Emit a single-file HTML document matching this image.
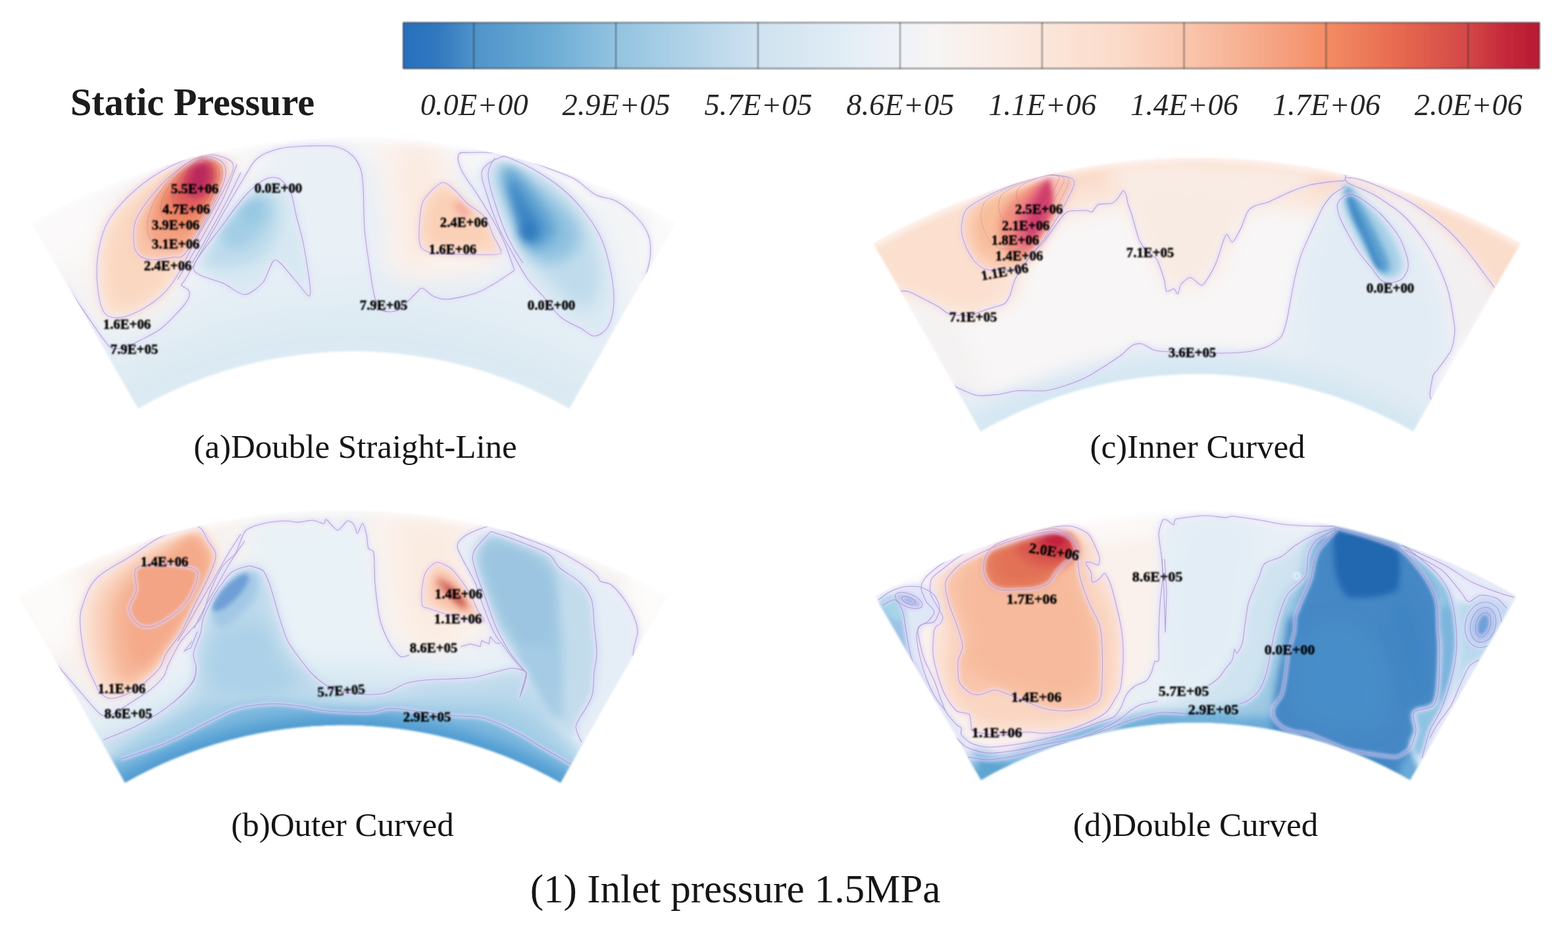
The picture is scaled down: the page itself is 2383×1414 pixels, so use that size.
<!DOCTYPE html>
<html lang="en"><head><meta charset="utf-8"><title>Static Pressure - Inlet pressure 1.5MPa</title>
<style>
html,body{margin:0;padding:0;background:#fff;}
body{width:2383px;height:1414px;overflow:hidden;}
svg{display:block;font-family:"Liberation Serif",serif;}
.cl text{font-weight:bold;fill:#050505;stroke:#050505;stroke-width:0.5px;text-anchor:middle;}
.cap{font-size:51px;fill:#141414;text-anchor:middle;}
.tick{font-size:46.4px;font-style:italic;fill:#262626;text-anchor:middle;}
</style></head><body>
<svg width="2383" height="1414" viewBox="0 0 2383 1414" role="img" aria-label="Static pressure contours, inlet pressure 1.5MPa">
<defs>
<filter id="b2" x="-60%" y="-60%" width="220%" height="220%"><feGaussianBlur stdDeviation="2"/></filter>
<filter id="b3" x="-60%" y="-60%" width="220%" height="220%"><feGaussianBlur stdDeviation="3"/></filter>
<filter id="b4" x="-60%" y="-60%" width="220%" height="220%"><feGaussianBlur stdDeviation="4"/></filter>
<filter id="b5" x="-60%" y="-60%" width="220%" height="220%"><feGaussianBlur stdDeviation="5"/></filter>
<filter id="b6" x="-60%" y="-60%" width="220%" height="220%"><feGaussianBlur stdDeviation="6"/></filter>
<filter id="b7" x="-60%" y="-60%" width="220%" height="220%"><feGaussianBlur stdDeviation="7"/></filter>
<filter id="b8" x="-60%" y="-60%" width="220%" height="220%"><feGaussianBlur stdDeviation="8"/></filter>
<filter id="b9" x="-60%" y="-60%" width="220%" height="220%"><feGaussianBlur stdDeviation="9"/></filter>
<filter id="b10" x="-60%" y="-60%" width="220%" height="220%"><feGaussianBlur stdDeviation="10"/></filter>
<filter id="b11" x="-60%" y="-60%" width="220%" height="220%"><feGaussianBlur stdDeviation="11"/></filter>
<filter id="b12" x="-60%" y="-60%" width="220%" height="220%"><feGaussianBlur stdDeviation="12"/></filter>
<filter id="b14" x="-60%" y="-60%" width="220%" height="220%"><feGaussianBlur stdDeviation="14"/></filter>
<filter id="b16" x="-60%" y="-60%" width="220%" height="220%"><feGaussianBlur stdDeviation="16"/></filter>
<filter id="b20" x="-60%" y="-60%" width="220%" height="220%"><feGaussianBlur stdDeviation="20"/></filter>
<filter id="b22" x="-60%" y="-60%" width="220%" height="220%"><feGaussianBlur stdDeviation="22"/></filter>
<filter id="b25" x="-60%" y="-60%" width="220%" height="220%"><feGaussianBlur stdDeviation="25"/></filter>
<filter id="soft" x="-5%" y="-5%" width="110%" height="110%"><feGaussianBlur stdDeviation="1.6"/></filter>
<filter id="tsoft" x="-5%" y="-20%" width="110%" height="140%"><feGaussianBlur stdDeviation="0.85"/></filter>
<filter id="csoft" x="-5%" y="-20%" width="110%" height="140%"><feGaussianBlur stdDeviation="0.65"/></filter>
<filter id="cbsoft" x="-2%" y="-20%" width="104%" height="140%"><feGaussianBlur stdDeviation="1"/></filter>
<filter id="lsoft" x="-5%" y="-5%" width="110%" height="110%"><feGaussianBlur stdDeviation="0.6"/></filter>
<linearGradient id="cbg" x1="0" y1="0" x2="1" y2="0">
<stop offset="0" stop-color="#2670bd"/>
<stop offset="0.03" stop-color="#3178be"/>
<stop offset="0.0625" stop-color="#4f93c9"/>
<stop offset="0.125" stop-color="#6aaad4"/>
<stop offset="0.1875" stop-color="#93c3e0"/>
<stop offset="0.25" stop-color="#b0d3e8"/>
<stop offset="0.3125" stop-color="#cfe2f0"/>
<stop offset="0.375" stop-color="#deebf4"/>
<stop offset="0.4375" stop-color="#f0f3f8"/>
<stop offset="0.47" stop-color="#f7f4f4"/>
<stop offset="0.5" stop-color="#faf0eb"/>
<stop offset="0.5625" stop-color="#fbe6db"/>
<stop offset="0.625" stop-color="#fbdccb"/>
<stop offset="0.6875" stop-color="#fac6ae"/>
<stop offset="0.75" stop-color="#f6ab8c"/>
<stop offset="0.8125" stop-color="#f38d65"/>
<stop offset="0.875" stop-color="#e76a50"/>
<stop offset="0.9375" stop-color="#d34747"/>
<stop offset="0.97" stop-color="#c5283a"/>
<stop offset="1" stop-color="#b71a33"/>
</linearGradient>
<clipPath id="ca"><path d="M48.9 339A985.6 985.6 0 0 1 1026.1 339L865.1 621A660.9 660.9 0 0 0 209.9 621Z"/></clipPath>
<clipPath id="cb"><path d="M28.5 906.4A995.3 995.3 0 0 1 1013.5 906.4L852 1190A668.9 668.9 0 0 0 190 1190Z"/></clipPath>
<clipPath id="cc"><path d="M1327.5 370.3A992 992 0 0 1 2310.5 370.3L2147.7 655.7A663.5 663.5 0 0 0 1490.3 655.7Z"/></clipPath>
<clipPath id="cd"><path d="M1330 907A974 974 0 0 1 2304 907L2143 1185.9A652 652 0 0 0 1491 1185.9Z"/></clipPath>
</defs>
<rect width="2383" height="1414" fill="#ffffff"/>
<g filter="url(#cbsoft)">
<rect x="612.5" y="34" width="1727.5" height="70.5" fill="url(#cbg)"/>
<rect x="613" y="34.5" width="1726.5" height="69.5" fill="none" stroke="#2a2a30" stroke-opacity="0.85" stroke-width="1.6"/>
<g stroke="#2e2e36" stroke-opacity="0.8" stroke-width="1.6">
<line x1="720.2" y1="34" x2="720.2" y2="104.5"/>
<line x1="936.1" y1="34" x2="936.1" y2="104.5"/>
<line x1="1151.9" y1="34" x2="1151.9" y2="104.5"/>
<line x1="1367.8" y1="34" x2="1367.8" y2="104.5"/>
<line x1="1583.7" y1="34" x2="1583.7" y2="104.5"/>
<line x1="1799.5" y1="34" x2="1799.5" y2="104.5"/>
<line x1="2015.4" y1="34" x2="2015.4" y2="104.5"/>
<line x1="2231.3" y1="34" x2="2231.3" y2="104.5"/>
</g></g>
<g filter="url(#csoft)">
<g class="tick">
<text x="720.7" y="174.5">0.0E+00</text>
<text x="936.6" y="174.5">2.9E+05</text>
<text x="1152.4" y="174.5">5.7E+05</text>
<text x="1368.3" y="174.5">8.6E+05</text>
<text x="1584.2" y="174.5">1.1E+06</text>
<text x="1800" y="174.5">1.4E+06</text>
<text x="2015.9" y="174.5">1.7E+06</text>
<text x="2231.8" y="174.5">2.0E+06</text>
</g>
<text x="292.5" y="175" text-anchor="middle" font-size="58.2" font-weight="bold" fill="#1a1a1a">Static Pressure</text>
<text class="cap" x="540" y="696">(a)Double Straight-Line</text>
<text class="cap" x="520.5" y="1271">(b)Outer Curved</text>
<text class="cap" x="1820" y="696">(c)Inner Curved</text>
<text class="cap" x="1817" y="1271">(d)Double Curved</text>
<text x="1117.5" y="1371.7" text-anchor="middle" font-size="61" fill="#141414">(1) Inlet pressure 1.5MPa</text>
</g>
<g filter="url(#soft)"><g clip-path="url(#ca)">
<rect x="25" y="204.4" width="1025" height="423.8" fill="#e8f0f7"/>
<path d="M40 330C58.3 300 151.7 269.2 200 250C248.3 230.8 293.3 220.8 330 215C366.7 209.2 420 195.8 420 215C420 234.2 353.3 294.2 330 330C306.7 365.8 293.3 401.7 280 430C266.7 458.3 271.7 488.3 250 500C228.3 511.7 176.7 511.7 150 500C123.3 488.3 108.3 458.3 90 430C71.7 401.7 21.7 360 40 330Z" fill="#f8f4f2" filter="url(#b25)"/>
<path d="M-105.3 429A1000 1000 0 0 1 1180.3 429L1148.1 467.3A950 950 0 0 0 -73.1 467.3Z" fill="#f8f7f8" opacity="0.9" filter="url(#b14)"/>
<path d="M20 330C23.3 306.7 96.7 280 120 280C143.3 280 163.3 306.7 160 330C156.7 353.3 123.3 420 100 420C76.7 420 16.7 353.3 20 330Z" fill="#fbf9f9" filter="url(#b20)"/>
<path d="M400 225C416.7 212.5 513.3 185.8 540 225C566.7 264.2 571.7 419.2 560 460C548.3 500.8 490 496.7 470 470C450 443.3 451.7 340.8 440 300C428.3 259.2 383.3 237.5 400 225Z" fill="#e9f0f6" filter="url(#b20)"/>
<path d="M575 215C590.8 196.7 659.2 205.8 680 220C700.8 234.2 686.7 271.7 700 300C713.3 328.3 756.7 370 760 390C763.3 410 746.7 413.3 720 420C693.3 426.7 622.5 445 600 430C577.5 415 589.2 365.8 585 330C580.8 294.2 559.2 233.3 575 215Z" fill="#fbf2ed" filter="url(#b16)"/>
<path d="M610 230C617.5 205.8 650.8 223.3 660 235C669.2 246.7 668.3 272.5 665 300C661.7 327.5 648.3 386.7 640 400C631.7 413.3 620 408.3 615 380C610 351.7 602.5 254.2 610 230Z" fill="#fbebe1" filter="url(#b14)"/>
<path d="M900 250C919.2 236.7 1038.3 281.7 1050 320C1061.7 358.3 989.2 466.7 970 480C950.8 493.3 946.7 438.3 935 400C923.3 361.7 880.8 263.3 900 250Z" fill="#f3f4f6" filter="url(#b16)"/>
<path d="M990 320C998.3 305 1048.3 313.3 1050 330C1051.7 346.7 1010 421.7 1000 420C990 418.3 981.7 335 990 320Z" fill="#fafafa" filter="url(#b12)"/>
<path d="M49 612.8A760 760 0 0 1 1026 612.8L958.5 693.2A655 655 0 0 0 116.5 693.2Z" fill="#dfebf3" opacity="0.9" filter="url(#b25)"/>
<path d="M87.5 658.8A700 700 0 0 1 987.5 658.8L955.3 697.1A650 650 0 0 0 119.7 697.1Z" fill="#d9e8f2" opacity="0.8" filter="url(#b14)"/>
<path d="M311 235C324.8 233.5 338.8 238.2 346 242C353.2 245.8 356.2 248 354 258C351.8 268 342.8 283.3 333 302C323.2 320.7 306.7 348.8 295 370C283.3 391.2 273.7 413.8 263 429C252.3 444.2 243.5 452.2 231 461C218.5 469.8 200 479.5 188 482C176 484.5 165.7 484.2 159 476C152.3 467.8 149.5 449 148 433C146.5 417 146.8 396.8 150 380C153.2 363.2 157 347.8 167 332C177 316.2 194 298.5 210 285C226 271.5 246.2 259.3 263 251C279.8 242.7 297.2 236.5 311 235Z" fill="#fbe3d3" filter="url(#b10)"/>
<path d="M300 250C320 245 335 248.3 335 265C335 281.7 313.3 323.3 300 350C286.7 376.7 269.2 406.7 255 425C240.8 443.3 228.3 453.3 215 460C201.7 466.7 183.8 471.7 175 465C166.2 458.3 162.8 439.2 162 420C161.2 400.8 161.2 370.8 170 350C178.8 329.2 193.3 311.7 215 295C236.7 278.3 280 255 300 250Z" fill="#fad7c0" filter="url(#b12)"/>
<path d="M301 239C314.5 233.8 326 239.8 333 243C340 246.2 342.3 251 343 258C343.7 265 343.3 270 337 285C330.7 300 314.5 331 305 348C295.5 365 287 379.8 280 387C273 394.2 271.2 389.7 263 391C254.8 392.3 239.8 395.7 231 395C222.2 394.3 214.7 392 210 387C205.3 382 203 375 203 365C203 355 201.8 342.2 210 327C218.2 311.8 236.8 288.7 252 274C267.2 259.3 287.5 244.2 301 239Z" fill="#f9c4aa" filter="url(#b7)"/>
<path d="M303 239C313 236.2 322.2 241.2 328 245C333.8 248.8 337.8 253.7 338 262C338.2 270.3 335 280.8 329 295C323 309.2 309.8 334.2 302 347C294.2 359.8 289.8 367.2 282 372C274.2 376.8 263.7 377 255 376C246.3 375 235.2 372.3 230 366C224.8 359.7 222.7 349 224 338C225.3 327 230.7 312.7 238 300C245.3 287.3 257.2 272.2 268 262C278.8 251.8 293 241.8 303 239Z" fill="#f4a283" filter="url(#b7)"/>
<path d="M305 240C313 238.2 321.3 242.8 326 247C330.7 251.2 333.3 257 333 265C332.7 273 328.8 284.2 324 295C319.2 305.8 311 321.5 304 330C297 338.5 290 344 282 346C274 348 262.3 346.7 256 342C249.7 337.3 244.5 326.7 244 318C243.5 309.3 247.3 300 253 290C258.7 280 269.3 266.3 278 258C286.7 249.7 297 241.8 305 240Z" fill="#ee8563" filter="url(#b7)"/>
<path d="M306 241C311.7 240.2 318.3 244.8 322 249C325.7 253.2 328.3 258.8 328 266C327.7 273.2 324.3 283.7 320 292C315.7 300.3 309 311.3 302 316C295 320.7 284.7 322.3 278 320C271.3 317.7 263.3 309.3 262 302C260.7 294.7 265.7 284 270 276C274.3 268 282 259.8 288 254C294 248.2 300.3 241.8 306 241Z" fill="#df5d5c" filter="url(#b7)"/>
<path d="M307 243C311.3 243 316.3 247.8 319 252C321.7 256.2 323.5 262 323 268C322.5 274 319.8 282.7 316 288C312.2 293.3 305.7 299.3 300 300C294.3 300.7 285 297 282 292C279 287 280.2 276.7 282 270C283.8 263.3 288.8 256.5 293 252C297.2 247.5 302.7 243 307 243Z" fill="#c8365e" filter="url(#b6)"/>
<ellipse cx="303" cy="268" rx="10" ry="20" fill="#b4285c" opacity="0.9" transform="rotate(12 303 268)" filter="url(#b6)"/>
<path d="M300 405C300.8 389.2 329.2 355 345 335C360.8 315 381.7 294.2 395 285C408.3 275.8 416.7 277.5 425 280C433.3 282.5 440 290 445 300C450 310 451.7 323.3 455 340C458.3 356.7 462.8 383.3 465 400C467.2 416.7 471.3 436.7 468 440C464.7 443.3 453.3 427 445 420C436.7 413 425.8 396.3 418 398C410.2 399.7 405.8 422 398 430C390.2 438 380.7 446 371 446C361.3 446 351.8 436.8 340 430C328.2 423.2 299.2 420.8 300 405Z" fill="#d7e8f2" filter="url(#b8)"/>
<path d="M310 398C309.2 385.5 341.3 347 355 330C368.7 313 381.5 301.3 392 296C402.5 290.7 412.7 290.7 418 298C423.3 305.3 426.2 325.5 424 340C421.8 354.5 415.7 374.2 405 385C394.3 395.8 375.8 402.8 360 405C344.2 407.2 310.8 410.5 310 398Z" fill="#bddbec" filter="url(#b10)"/>
<path d="M335 355C337.8 343.7 361.2 319.5 372 310C382.8 300.5 393.3 295.5 400 298C406.7 300.5 413.7 314.7 412 325C410.3 335.3 399.5 351.2 390 360C380.5 368.8 364.2 378.8 355 378C345.8 377.2 332.2 366.3 335 355Z" fill="#a3cee5" filter="url(#b9)"/>
<ellipse cx="382" cy="322" rx="18" ry="12" fill="#94c6e2" opacity="0.9" transform="rotate(-40 382 322)" filter="url(#b8)"/>
<path d="M671 278C678.8 275 683.3 282.7 690 288C696.7 293.3 703.2 303 711 310C718.8 317 730.5 321.8 737 330C743.5 338.2 746 349.8 750 359C754 368.2 765.2 380.3 761 385C756.8 389.7 741.8 387 725 387C708.2 387 674.2 386.8 660 385C645.8 383.2 643.8 381.8 640 376C636.2 370.2 636.5 361.7 637 350C637.5 338.3 637.3 318 643 306C648.7 294 663.2 281 671 278Z" fill="#fbd9c4" filter="url(#b7)"/>
<path d="M672 295C680 292.5 690.3 298.3 700 305C709.7 311.7 722.5 325 730 335C737.5 345 750 358.8 745 365C740 371.2 715 372 700 372C685 372 663 373.7 655 365C647 356.3 649.2 331.7 652 320C654.8 308.3 664 297.5 672 295Z" fill="#fad0b6" filter="url(#b8)"/>
<ellipse cx="702" cy="318" rx="16" ry="7" fill="#f3a39a" opacity="0.9" transform="rotate(45 702 318)" filter="url(#b6)"/>
<path d="M761 239C768.5 236.2 769.8 239 778 242C786.2 245 797.7 249.8 810 257C822.3 264.2 839.7 275 852 285C864.3 295 874 304.7 884 317C894 329.3 905 344.8 912 359C919 373.2 922.5 386 926 402C929.5 418 933.2 439.5 933 455C932.8 470.5 929.8 485.7 925 495C920.2 504.3 910.8 510.2 904 511C897.2 511.8 892.7 504.8 884 500C875.3 495.2 861.8 490.3 852 482C842.2 473.7 833.5 459.8 825 450C816.5 440.2 809.2 434.7 801 423C792.8 411.3 783 392.5 776 380C769 367.5 765 362 759 348C753 334 744.3 310.8 740 296C735.7 281.2 729.5 268.5 733 259C736.5 249.5 753.5 241.8 761 239Z" fill="#dbe9f3" filter="url(#b7)"/>
<path d="M762 247C770 246.5 785.3 254 800 262C814.7 270 835.8 282.8 850 295C864.2 307.2 875.8 320.8 885 335C894.2 349.2 900.5 364.2 905 380C909.5 395.8 913.7 415 912 430C910.3 445 903.7 465.8 895 470C886.3 474.2 872.5 465 860 455C847.5 445 831.7 425.8 820 410C808.3 394.2 799.2 378.3 790 360C780.8 341.7 771.3 315.8 765 300C758.7 284.2 752.5 273.8 752 265C751.5 256.2 754 247.5 762 247Z" fill="#c0dcec" filter="url(#b12)"/>
<path d="M765 250C771.3 248.3 785.8 260 800 270C814.2 280 836.7 296.7 850 310C863.3 323.3 876.7 337.5 880 350C883.3 362.5 877.5 376.7 870 385C862.5 393.3 845.8 400 835 400C824.2 400 814.2 396.7 805 385C795.8 373.3 787.2 347.5 780 330C772.8 312.5 764.5 293.3 762 280C759.5 266.7 758.7 251.7 765 250Z" fill="#8fc1e0" filter="url(#b11)"/>
<path d="M768 255C772.2 253.3 784.7 264.2 795 275C805.3 285.8 821.7 307.5 830 320C838.3 332.5 845.8 340.8 845 350C844.2 359.2 832.5 371.3 825 375C817.5 378.7 806.7 379.5 800 372C793.3 364.5 790 344.5 785 330C780 315.5 772.8 297.5 770 285C767.2 272.5 763.8 256.7 768 255Z" fill="#5b9fd0" filter="url(#b9)"/>
<path d="M775 275C778 274.2 792.5 298.3 800 310C807.5 321.7 818.3 335.8 820 345C821.7 354.2 814.2 363.3 810 365C805.8 366.7 799.7 363.3 795 355C790.3 346.7 785.3 328.3 782 315C778.7 301.7 772 275.8 775 275Z" fill="#3c85c4" filter="url(#b7)"/>
<ellipse cx="803" cy="352" rx="12" ry="14" fill="#2f78bd" opacity="0.9" filter="url(#b7)"/>
<path d="M-111.7 421.3A1010 1010 0 0 1 1186.7 421.3L1167.4 444.3A980 980 0 0 0 -92.4 444.3Z" fill="#ffffff" opacity="0.7" filter="url(#b6)"/>
</g></g>
<g clip-path="url(#ca)" filter="url(#lsoft)">
<g fill="none" filter="url(#b2)" stroke="#e6d8ff" stroke-width="6.5" opacity="0.6" stroke-linejoin="round">
<path d="M311 235C324.8 233.5 338.8 238.2 346 242C353.2 245.8 356.2 248 354 258C351.8 268 342.8 283.3 333 302C323.2 320.7 306.7 348.8 295 370C283.3 391.2 273.7 413.8 263 429C252.3 444.2 243.5 452.2 231 461C218.5 469.8 200 479.5 188 482C176 484.5 165.7 484.2 159 476C152.3 467.8 149.5 449 148 433C146.5 417 146.8 396.8 150 380C153.2 363.2 157 347.8 167 332C177 316.2 194 298.5 210 285C226 271.5 246.2 259.3 263 251C279.8 242.7 297.2 236.5 311 235Z"/>
<path d="M301 239C314.5 233.8 326 239.8 333 243C340 246.2 342.3 251 343 258C343.7 265 343.3 270 337 285C330.7 300 314.5 331 305 348C295.5 365 287 379.8 280 387C273 394.2 271.2 389.7 263 391C254.8 392.3 239.8 395.7 231 395C222.2 394.3 214.7 392 210 387C205.3 382 203 375 203 365C203 355 201.8 342.2 210 327C218.2 311.8 236.8 288.7 252 274C267.2 259.3 287.5 244.2 301 239Z"/>
<path d="M100 432C103.3 437 112.3 450.7 120 462C127.7 473.3 139 490 146 500C153 510 157.7 517 162 522C166.3 527 167.3 529 172 530C176.7 531 183.3 530 190 528C196.7 526 203 522.7 212 518C221 513.3 234.3 507.2 244 500C253.7 492.8 263 482.5 270 475C277 467.5 283.2 460.5 286 455C288.8 449.5 288.7 445.5 287 442C285.3 438.5 277.2 436.5 276 434C274.8 431.5 276.8 432.3 280 427C283.2 421.7 286.7 416.5 295 402C303.3 387.5 317.3 362 330 340C342.7 318 360.7 286.7 371 270C381.3 253.3 383 247.3 392 240C401 232.7 412.5 229 425 226C437.5 223 452.8 222.5 467 222C481.2 221.5 498.7 220.7 510 223C521.3 225.3 528.7 230.3 535 236C541.3 241.7 545.2 248.8 548 257C550.8 265.2 551 269.8 552 285C553 300.2 552.5 328.5 554 348C555.5 367.5 558.5 385 561 402C563.5 419 566.2 438.7 569 450C571.8 461.3 574.2 466 578 470C581.8 474 587 474 592 474C597 474 603.3 472.7 608 470C612.7 467.3 616 462 620 458C624 454 628.5 449.3 632 446C635.5 442.7 638 438.3 641 438C644 437.7 646.8 441.8 650 444C653.2 446.2 655 449.2 660 451C665 452.8 669.7 455.8 680 455C690.3 454.2 710.3 449.8 722 446C733.7 442.2 740 437.8 750 432C760 426.2 776.7 414.5 782 411"/>
<path d="M360 250C356.7 258.3 349.2 280.8 340 300C330.8 319.2 314.2 348.3 305 365C295.8 381.7 290.8 390 285 400C279.2 410 272.5 420.8 270 425"/>
<path d="M366 262C362.5 269.2 354 287.8 345 305C336 322.2 320.8 349.2 312 365C303.2 380.8 295.3 394.2 292 400"/>
<path d="M294 408C294 395.9 329.2 355.1 340 340C350.8 324.9 366.5 304.1 375 295C383.5 285.9 397.3 275.1 404 272C410.7 268.9 419.9 269.2 425 272C430.1 274.8 438.7 285.7 442 293C445.3 300.3 447.5 316.7 450 327C452.5 337.3 458.2 355.9 461 370C463.8 384.1 469.9 422.3 471 433C472.1 443.7 472.3 451.3 469 450C465.7 448.7 452.8 430.3 446 423C439.2 415.7 424.1 394.2 418 395C411.9 395.8 406.1 421.9 400 429C393.9 436.1 380 447.7 372 448C364 448.3 350.4 436.3 340 431C329.6 425.7 294 420.1 294 408Z"/>
<path d="M671 278C677.3 275.6 684.7 283.7 690 288C695.3 292.3 704.7 304.4 711 310C717.3 315.6 731.8 323.5 737 330C742.2 336.5 746.8 351.7 750 359C753.2 366.3 764.3 381.3 761 385C757.7 388.7 738.5 387 725 387C711.5 387 671.3 386.5 660 385C648.7 383.5 643.1 380.7 640 376C636.9 371.3 636.6 359.3 637 350C637.4 340.7 638.5 315.6 643 306C647.5 296.4 664.7 280.4 671 278Z"/>
<path d="M761 239C768.5 236.2 769.8 239 778 242C786.2 245 797.7 249.8 810 257C822.3 264.2 839.7 275 852 285C864.3 295 874 304.7 884 317C894 329.3 905 344.8 912 359C919 373.2 922.5 386 926 402C929.5 418 933.2 439.5 933 455C932.8 470.5 929.8 485.7 925 495C920.2 504.3 910.8 510.2 904 511C897.2 511.8 892.7 504.8 884 500C875.3 495.2 861.8 490.3 852 482C842.2 473.7 833.5 459.8 825 450C816.5 440.2 809.2 434.7 801 423C792.8 411.3 783 392.5 776 380C769 367.5 765 362 759 348C753 334 744.3 310.8 740 296C735.7 281.2 729.5 268.5 733 259C736.5 249.5 753.5 241.8 761 239Z"/>
<path d="M782 411C779.5 404.2 772.3 382.5 767 370C761.7 357.5 757 348.5 750 336C743 323.5 733 307.7 725 295C717 282.3 706.7 270 702 260C697.3 250 694.8 239.7 697 235C699.2 230.3 704.7 232.3 715 232C725.3 231.7 747.3 232 759 233C770.7 234 773 234.3 785 238C797 241.7 816.3 249.3 831 255C845.7 260.7 860.7 265.2 873 272C885.3 278.8 894.3 290.3 905 296C915.7 301.7 926.3 300 937 306C947.7 312 960.8 323.2 969 332C977.2 340.8 982.8 349.2 986 359C989.2 368.8 989.2 379.3 988 391C986.8 402.7 980.5 422.7 979 429"/>
<path d="M752 240C750.3 243.7 742.7 252.8 742 262C741.3 271.2 744 280.7 748 295C752 309.3 760.3 333.8 766 348C771.7 362.2 777.2 371.3 782 380C786.8 388.7 792.8 396.7 795 400"/>
</g>
<g fill="none" stroke="#8d86b6" stroke-width="1.1" opacity="0.64" stroke-linejoin="round">
<path d="M311 235C324.8 233.5 338.8 238.2 346 242C353.2 245.8 356.2 248 354 258C351.8 268 342.8 283.3 333 302C323.2 320.7 306.7 348.8 295 370C283.3 391.2 273.7 413.8 263 429C252.3 444.2 243.5 452.2 231 461C218.5 469.8 200 479.5 188 482C176 484.5 165.7 484.2 159 476C152.3 467.8 149.5 449 148 433C146.5 417 146.8 396.8 150 380C153.2 363.2 157 347.8 167 332C177 316.2 194 298.5 210 285C226 271.5 246.2 259.3 263 251C279.8 242.7 297.2 236.5 311 235Z" stroke="#a08cc4"/>
<path d="M301 239C314.5 233.8 326 239.8 333 243C340 246.2 342.3 251 343 258C343.7 265 343.3 270 337 285C330.7 300 314.5 331 305 348C295.5 365 287 379.8 280 387C273 394.2 271.2 389.7 263 391C254.8 392.3 239.8 395.7 231 395C222.2 394.3 214.7 392 210 387C205.3 382 203 375 203 365C203 355 201.8 342.2 210 327C218.2 311.8 236.8 288.7 252 274C267.2 259.3 287.5 244.2 301 239Z" stroke="#b08cb8"/>
<path d="M303 239C313 236.2 322.2 241.2 328 245C333.8 248.8 337.8 253.7 338 262C338.2 270.3 335 280.8 329 295C323 309.2 309.8 334.2 302 347C294.2 359.8 289.8 367.2 282 372C274.2 376.8 263.7 377 255 376C246.3 375 235.2 372.3 230 366C224.8 359.7 222.7 349 224 338C225.3 327 230.7 312.7 238 300C245.3 287.3 257.2 272.2 268 262C278.8 251.8 293 241.8 303 239Z" stroke="#c08aa0" stroke-width="1"/>
<path d="M305 240C313 238.2 321.3 242.8 326 247C330.7 251.2 333.3 257 333 265C332.7 273 328.8 284.2 324 295C319.2 305.8 311 321.5 304 330C297 338.5 290 344 282 346C274 348 262.3 346.7 256 342C249.7 337.3 244.5 326.7 244 318C243.5 309.3 247.3 300 253 290C258.7 280 269.3 266.3 278 258C286.7 249.7 297 241.8 305 240Z" stroke="#c07890" stroke-width="1"/>
<path d="M306 241C311.7 240.2 318.3 244.8 322 249C325.7 253.2 328.3 258.8 328 266C327.7 273.2 324.3 283.7 320 292C315.7 300.3 309 311.3 302 316C295 320.7 284.7 322.3 278 320C271.3 317.7 263.3 309.3 262 302C260.7 294.7 265.7 284 270 276C274.3 268 282 259.8 288 254C294 248.2 300.3 241.8 306 241Z" stroke="#b86088" stroke-width="1"/>
<path d="M307 243C311.3 243 316.3 247.8 319 252C321.7 256.2 323.5 262 323 268C322.5 274 319.8 282.7 316 288C312.2 293.3 305.7 299.3 300 300C294.3 300.7 285 297 282 292C279 287 280.2 276.7 282 270C283.8 263.3 288.8 256.5 293 252C297.2 247.5 302.7 243 307 243Z" stroke="#a84878" stroke-width="1"/>
<path d="M100 432C103.3 437 112.3 450.7 120 462C127.7 473.3 139 490 146 500C153 510 157.7 517 162 522C166.3 527 167.3 529 172 530C176.7 531 183.3 530 190 528C196.7 526 203 522.7 212 518C221 513.3 234.3 507.2 244 500C253.7 492.8 263 482.5 270 475C277 467.5 283.2 460.5 286 455C288.8 449.5 288.7 445.5 287 442C285.3 438.5 277.2 436.5 276 434C274.8 431.5 276.8 432.3 280 427C283.2 421.7 286.7 416.5 295 402C303.3 387.5 317.3 362 330 340C342.7 318 360.7 286.7 371 270C381.3 253.3 383 247.3 392 240C401 232.7 412.5 229 425 226C437.5 223 452.8 222.5 467 222C481.2 221.5 498.7 220.7 510 223C521.3 225.3 528.7 230.3 535 236C541.3 241.7 545.2 248.8 548 257C550.8 265.2 551 269.8 552 285C553 300.2 552.5 328.5 554 348C555.5 367.5 558.5 385 561 402C563.5 419 566.2 438.7 569 450C571.8 461.3 574.2 466 578 470C581.8 474 587 474 592 474C597 474 603.3 472.7 608 470C612.7 467.3 616 462 620 458C624 454 628.5 449.3 632 446C635.5 442.7 638 438.3 641 438C644 437.7 646.8 441.8 650 444C653.2 446.2 655 449.2 660 451C665 452.8 669.7 455.8 680 455C690.3 454.2 710.3 449.8 722 446C733.7 442.2 740 437.8 750 432C760 426.2 776.7 414.5 782 411"/>
<path d="M360 250C356.7 258.3 349.2 280.8 340 300C330.8 319.2 314.2 348.3 305 365C295.8 381.7 290.8 390 285 400C279.2 410 272.5 420.8 270 425"/>
<path d="M366 262C362.5 269.2 354 287.8 345 305C336 322.2 320.8 349.2 312 365C303.2 380.8 295.3 394.2 292 400"/>
<path d="M294 408C294 395.9 329.2 355.1 340 340C350.8 324.9 366.5 304.1 375 295C383.5 285.9 397.3 275.1 404 272C410.7 268.9 419.9 269.2 425 272C430.1 274.8 438.7 285.7 442 293C445.3 300.3 447.5 316.7 450 327C452.5 337.3 458.2 355.9 461 370C463.8 384.1 469.9 422.3 471 433C472.1 443.7 472.3 451.3 469 450C465.7 448.7 452.8 430.3 446 423C439.2 415.7 424.1 394.2 418 395C411.9 395.8 406.1 421.9 400 429C393.9 436.1 380 447.7 372 448C364 448.3 350.4 436.3 340 431C329.6 425.7 294 420.1 294 408Z"/>
<path d="M671 278C677.3 275.6 684.7 283.7 690 288C695.3 292.3 704.7 304.4 711 310C717.3 315.6 731.8 323.5 737 330C742.2 336.5 746.8 351.7 750 359C753.2 366.3 764.3 381.3 761 385C757.7 388.7 738.5 387 725 387C711.5 387 671.3 386.5 660 385C648.7 383.5 643.1 380.7 640 376C636.9 371.3 636.6 359.3 637 350C637.4 340.7 638.5 315.6 643 306C647.5 296.4 664.7 280.4 671 278Z" stroke="#a88fc0"/>
<path d="M761 239C768.5 236.2 769.8 239 778 242C786.2 245 797.7 249.8 810 257C822.3 264.2 839.7 275 852 285C864.3 295 874 304.7 884 317C894 329.3 905 344.8 912 359C919 373.2 922.5 386 926 402C929.5 418 933.2 439.5 933 455C932.8 470.5 929.8 485.7 925 495C920.2 504.3 910.8 510.2 904 511C897.2 511.8 892.7 504.8 884 500C875.3 495.2 861.8 490.3 852 482C842.2 473.7 833.5 459.8 825 450C816.5 440.2 809.2 434.7 801 423C792.8 411.3 783 392.5 776 380C769 367.5 765 362 759 348C753 334 744.3 310.8 740 296C735.7 281.2 729.5 268.5 733 259C736.5 249.5 753.5 241.8 761 239Z"/>
<path d="M782 411C779.5 404.2 772.3 382.5 767 370C761.7 357.5 757 348.5 750 336C743 323.5 733 307.7 725 295C717 282.3 706.7 270 702 260C697.3 250 694.8 239.7 697 235C699.2 230.3 704.7 232.3 715 232C725.3 231.7 747.3 232 759 233C770.7 234 773 234.3 785 238C797 241.7 816.3 249.3 831 255C845.7 260.7 860.7 265.2 873 272C885.3 278.8 894.3 290.3 905 296C915.7 301.7 926.3 300 937 306C947.7 312 960.8 323.2 969 332C977.2 340.8 982.8 349.2 986 359C989.2 368.8 989.2 379.3 988 391C986.8 402.7 980.5 422.7 979 429"/>
<path d="M752 240C750.3 243.7 742.7 252.8 742 262C741.3 271.2 744 280.7 748 295C752 309.3 760.3 333.8 766 348C771.7 362.2 777.2 371.3 782 380C786.8 388.7 792.8 396.7 795 400"/>
</g>
</g>
<g class="cl" filter="url(#tsoft)" font-size="20.8">
<text x="296" y="294">5.5E+06</text>
<text x="283" y="325">4.7E+06</text>
<text x="267" y="349">3.9E+06</text>
<text x="267" y="378">3.1E+06</text>
<text x="255" y="411">2.4E+06</text>
<text x="193" y="500">1.6E+06</text>
<text x="204" y="538">7.9E+05</text>
<text x="423" y="293">0.0E+00</text>
<text x="705" y="345">2.4E+06</text>
<text x="688" y="386">1.6E+06</text>
<text x="583" y="471">7.9E+05</text>
<text x="838" y="471">0.0E+00</text>
</g>
<g filter="url(#soft)"><g clip-path="url(#cb)">
<rect x="3.4" y="771" width="1035.1" height="426.7" fill="#e9f1f7"/>
<path d="M-128.2 997.6A1010 1010 0 0 1 1170.2 997.6L1118.8 1058.9A930 930 0 0 0 -76.8 1058.9Z" fill="#f8f3f0" opacity="0.95" filter="url(#b14)"/>
<path d="M20 900C26.7 865 103.3 848.3 150 830C196.7 811.7 270 786.7 300 790C330 793.3 338.3 815 330 850C321.7 885 275 965 250 1000C225 1035 203.3 1053.3 180 1060C156.7 1066.7 136.7 1066.7 110 1040C83.3 1013.3 13.3 935 20 900Z" fill="#faf1ec" filter="url(#b22)"/>
<path d="M15 905C18.3 881.7 82.5 855.8 100 860C117.5 864.2 123.3 906.7 120 930C116.7 953.3 97.5 1004.2 80 1000C62.5 995.8 11.7 928.3 15 905Z" fill="#fdfbfa" filter="url(#b16)"/>
<path d="M380 800C392.5 786.7 440 790 470 790C500 790 543 783.3 560 800C577 816.7 568.7 865 572 890C575.3 915 572 931.7 580 950C588 968.3 623.3 985 620 1000C616.7 1015 585 1036.7 560 1040C535 1043.3 493.3 1038.3 470 1020C446.7 1001.7 432.5 955 420 930C407.5 905 401.7 891.7 395 870C388.3 848.3 367.5 813.3 380 800Z" fill="#e9f2f7" filter="url(#b14)"/>
<path d="M575 785C599.2 770.3 694.2 779.5 720 792C745.8 804.5 725.8 832 730 860C734.2 888 750 939.2 745 960C740 980.8 720.8 980 700 985C679.2 990 639.2 995.8 620 990C600.8 984.2 592.5 968.3 585 950C577.5 931.7 576.7 907.5 575 880C573.3 852.5 550.8 799.7 575 785Z" fill="#fbf2ec" filter="url(#b14)"/>
<path d="M610 800C623.3 783.3 675 783.3 690 800C705 816.7 700 871.7 700 900C700 928.3 700 957.5 690 970C680 982.5 653.3 986.7 640 975C626.7 963.3 615 929.2 610 900C605 870.8 596.7 816.7 610 800Z" fill="#fbece2" filter="url(#b14)"/>
<path d="M900 850C916.7 841.7 1020 873.3 1030 900C1040 926.7 976.7 1001.7 960 1010C943.3 1018.3 940 976.7 930 950C920 923.3 883.3 858.3 900 850Z" fill="#f6f3f1" filter="url(#b16)"/>
<path d="M950 880C956.7 867.5 1023.3 888.3 1030 905C1036.7 921.7 1003.3 984.2 990 980C976.7 975.8 943.3 892.5 950 880Z" fill="#fdfcfb" filter="url(#b12)"/>
<path d="M32.5 1189.1A760 760 0 0 1 1009.5 1189.1L945.2 1265.7A660 660 0 0 0 96.8 1265.7Z" fill="#d6e7f2" opacity="0.95" filter="url(#b22)"/>
<path d="M61.4 1223.6A715 715 0 0 1 980.6 1223.6L942 1269.5A655 655 0 0 0 100 1269.5Z" fill="#b3d5ea" opacity="0.95" filter="url(#b12)"/>
<path d="M379 860C387 859.7 394.7 862.7 400 868C405.3 873.3 407.3 881.7 411 892C414.7 902.3 417.8 916.7 422 930C426.2 943.3 430.8 960.7 436 972C441.2 983.3 446.5 989.2 453 998C459.5 1006.8 467.8 1017.7 475 1025C482.2 1032.3 488.5 1037.5 496 1042C503.5 1046.5 509.3 1049.7 520 1052C530.7 1054.3 548.7 1055.8 560 1056C571.3 1056.2 578.5 1055.8 588 1053C597.5 1050.2 607.2 1042.2 617 1039C626.8 1035.8 635 1035.2 647 1034C659 1032.8 676.8 1032.7 689 1032C701.2 1031.3 709.5 1031.7 720 1030C730.5 1028.3 742.2 1024.3 752 1022C761.8 1019.7 771 1015.7 779 1016C787 1016.3 798.2 1016.7 800 1024C801.8 1031.3 815 1051.5 790 1060C765 1068.5 698.3 1072.5 650 1075C601.7 1077.5 541.7 1076.2 500 1075C458.3 1073.8 426.7 1066.3 400 1068C373.3 1069.7 365 1075.5 340 1085C315 1094.5 280 1112.5 250 1125C220 1137.5 175.5 1160 160 1160C144.5 1160 149.2 1134.3 157 1125C164.8 1115.7 191.7 1111.7 207 1104C222.3 1096.3 236.8 1087.5 249 1079C261.2 1070.5 272.3 1060.8 280 1053C287.7 1045.2 292 1039.2 295 1032C298 1024.8 298.2 1016.5 298 1010C297.8 1003.5 292.8 1001 294 993C295.2 985 302.5 970.8 305 962C307.5 953.2 305.5 949.7 309 940C312.5 930.3 318.8 915.7 326 904C333.2 892.3 343.2 877.3 352 870C360.8 862.7 371 860.3 379 860Z" fill="#cde2f0" filter="url(#b8)"/>
<path d="M330 1000C350 991.7 396.7 993.3 420 1000C443.3 1006.7 453.3 1029.7 470 1040C486.7 1050.3 498.3 1058.7 520 1062C541.7 1065.3 578.3 1062.8 600 1060C621.7 1057.2 630 1048 650 1045C670 1042 696.7 1043.7 720 1042C743.3 1040.3 770 1028.7 790 1035C810 1041.3 826.7 1060.8 840 1080C853.3 1099.2 893.3 1145 870 1150C846.7 1155 758.3 1119.2 700 1110C641.7 1100.8 578.3 1095 520 1095C461.7 1095 403.3 1098.3 350 1110C296.7 1121.7 230 1160 200 1165C170 1170 160 1151.7 170 1140C180 1128.3 238.3 1110 260 1095C281.7 1080 288.3 1065.8 300 1050C311.7 1034.2 310 1008.3 330 1000Z" fill="#b9d8eb" filter="url(#b12)"/>
<path d="M300 1075C336.7 1060.8 363.3 1060 400 1060C436.7 1060 478.3 1073.3 520 1075C561.7 1076.7 606.7 1070 650 1070C693.3 1070 746.7 1065 780 1075C813.3 1085 835 1115.8 850 1130C865 1144.2 895 1163.3 870 1160C845 1156.7 758.3 1120.8 700 1110C641.7 1099.2 578.3 1095 520 1095C461.7 1095 403.3 1098.3 350 1110C296.7 1121.7 228.3 1159.2 200 1165C171.7 1170.8 163.3 1160 180 1145C196.7 1130 263.3 1089.2 300 1075Z" fill="#a6cfe7" filter="url(#b9)"/>
<path d="M360 885C372.5 875 386.7 872.5 395 880C403.3 887.5 405 912.5 410 930C415 947.5 418.3 970 425 985C431.7 1000 440.8 1010 450 1020C459.2 1030 483.3 1038.3 480 1045C476.7 1051.7 451.7 1057.5 430 1060C408.3 1062.5 370 1063.3 350 1060C330 1056.7 317.5 1051.7 310 1040C302.5 1028.3 303.3 1006.7 305 990C306.7 973.3 310.8 957.5 320 940C329.2 922.5 347.5 895 360 885Z" fill="#bcd9eb" filter="url(#b12)"/>
<path d="M335 960C349.2 951.7 385 943.3 400 950C415 956.7 416.7 985 425 1000C433.3 1015 454.2 1030 450 1040C445.8 1050 420 1058.3 400 1060C380 1061.7 344.2 1060 330 1050C315.8 1040 314.2 1015 315 1000C315.8 985 320.8 968.3 335 960Z" fill="#acd1e8" filter="url(#b12)"/>
<path d="M322 932C323.7 922 336.7 905.3 345 895C353.3 884.7 364.2 872.8 372 870C379.8 867.2 389.8 871 392 878C394.2 885 390.7 901.3 385 912C379.3 922.7 366.3 934.8 358 942C349.7 949.2 341 956.7 335 955C329 953.3 320.3 942 322 932Z" fill="#a3c8e6" filter="url(#b6)"/>
<ellipse cx="350" cy="901" rx="38" ry="12.5" fill="#6c9cd6" opacity="0.95" transform="rotate(-46 350 901)" filter="url(#b3)"/>
<path d="M150 1165C150.7 1152.3 167.5 1159.7 184 1154C200.5 1148.3 227.7 1140 249 1131C270.3 1122 295.2 1108.3 312 1100C328.8 1091.7 339.5 1085.3 350 1081C360.5 1076.7 363.8 1075.8 375 1074C386.2 1072.2 403 1070 417 1070C431 1070 445.2 1072.2 459 1074C472.8 1075.8 482.7 1079.5 500 1081C517.3 1082.5 547.3 1083.7 563 1083C578.7 1082.3 581.2 1077.2 594 1077C606.8 1076.8 624.2 1080.2 640 1082C655.8 1083.8 673.8 1086.5 689 1088C704.2 1089.5 718.8 1088.7 731 1091C743.2 1093.3 751.5 1097.5 762 1102C772.5 1106.5 783.5 1112.2 794 1118C804.5 1123.8 813.8 1130.3 825 1137C836.2 1143.7 851.8 1152.5 861 1158C870.2 1163.5 880.2 1158 880 1170C879.8 1182 920 1236.7 860 1230C800 1223.3 633.3 1130 520 1130C406.7 1130 241.7 1224.2 180 1230C118.3 1235.8 149.3 1177.7 150 1165Z" fill="#7db8de" filter="url(#b7)"/>
<path d="M78.8 1244.3A688 688 0 0 1 963.2 1244.3L942 1269.5A655 655 0 0 0 100 1269.5Z" fill="#5aa3d5" opacity="0.95" filter="url(#b8)"/>
<path d="M89 1256.5A672 672 0 0 1 953 1256.5L938.8 1273.4A650 650 0 0 0 103.2 1273.4Z" fill="#4d97cd" opacity="0.9" filter="url(#b6)"/>
<path d="M298 800C309.7 801.5 312 816.5 317 824C322 831.5 328 836.2 328 845C328 853.8 322.3 864.7 317 877C311.7 889.3 303 904.8 296 919C289 933.2 282.2 949.7 275 962C267.8 974.3 258.3 984.2 253 993C247.7 1001.8 248.2 1007.8 243 1015C237.8 1022.2 229.2 1029.8 222 1036C214.8 1042.2 208.8 1047.7 200 1052C191.2 1056.3 177 1061.8 169 1062C161 1062.2 156.3 1057.3 152 1053C147.7 1048.7 146.7 1044.2 143 1036C139.3 1027.8 133.5 1018.2 130 1004C126.5 989.8 122.7 965.2 122 951C121.3 936.8 121.8 931 126 919C130.2 907 134.7 891.3 147 879C159.3 866.7 183.3 855.7 200 845C216.7 834.3 230.7 822.5 247 815C263.3 807.5 286.3 798.5 298 800Z" fill="#fbe2d4" filter="url(#b8)"/>
<path d="M296 806C305.2 808.8 315.7 826 320 835C324.3 844 324.5 849.2 322 860C319.5 870.8 311.7 885.8 305 900C298.3 914.2 290.3 930.8 282 945C273.7 959.2 262.8 973.3 255 985C247.2 996.7 242.2 1006.2 235 1015C227.8 1023.8 220.3 1032.2 212 1038C203.7 1043.8 193.3 1049.7 185 1050C176.7 1050.3 168.2 1048.3 162 1040C155.8 1031.7 151.3 1015 148 1000C144.7 985 141.7 965.8 142 950C142.3 934.2 143.7 918.3 150 905C156.3 891.7 167.5 880.8 180 870C192.5 859.2 210.8 848.7 225 840C239.2 831.3 253.2 823.7 265 818C276.8 812.3 286.8 803.2 296 806Z" fill="#f9cdb6" filter="url(#b9)"/>
<path d="M294 812C302.3 814 314 831.7 318 840C322 848.3 320.7 852 318 862C315.3 872 308.3 886.2 302 900C295.7 913.8 288.3 930.8 280 945C271.7 959.2 260 973.8 252 985C244 996.2 239 1004.5 232 1012C225 1019.5 217 1026.2 210 1030C203 1033.8 195.8 1038.3 190 1035C184.2 1031.7 178.7 1022.5 175 1010C171.3 997.5 168.5 975.8 168 960C167.5 944.2 167.5 928.3 172 915C176.5 901.7 184.5 890.8 195 880C205.5 869.2 222.8 858.7 235 850C247.2 841.3 258.2 834.3 268 828C277.8 821.7 285.7 810 294 812Z" fill="#f6b698" filter="url(#b9)"/>
<path d="M292 818C301.3 817.5 310.3 834.3 314 842C317.7 849.7 316.7 854.3 314 864C311.3 873.7 304.3 887 298 900C291.7 913 284 928.7 276 942C268 955.3 258 969.5 250 980C242 990.5 235 999.7 228 1005C221 1010.3 213.5 1015.3 208 1012C202.5 1008.7 197.7 997 195 985C192.3 973 191.2 954.2 192 940C192.8 925.8 194.5 911.7 200 900C205.5 888.3 215.3 879.2 225 870C234.7 860.8 246.8 853.7 258 845C269.2 836.3 282.7 818.5 292 818Z" fill="#f4aa8b" filter="url(#b8)"/>
<path d="M207 864C213.3 857.3 232 858.3 245 858C258 857.7 275.8 860 285 862C294.2 864 298.2 865 300 870C301.8 875 299.5 883.5 296 892C292.5 900.5 286.2 912.7 279 921C271.8 929.3 261.5 936.7 253 942C244.5 947.3 235.7 952.2 228 953C220.3 953.8 212.3 951.7 207 947C201.7 942.3 196 933.2 196 925C196 916.8 205.2 908.2 207 898C208.8 887.8 200.7 870.7 207 864Z" fill="#f3a484" filter="url(#b5)"/>
<path d="M664 855C670.3 854 679 859.7 685 864C691 868.3 695 874.3 700 881C705 887.7 710.7 896.2 715 904C719.3 911.8 722.7 921.2 726 928C729.3 934.8 739.3 943 735 945C730.7 947 712.5 942.8 700 940C687.5 937.2 668 930.5 660 928C652 925.5 655 926.2 652 925C649 923.8 643.8 925.5 642 921C640.2 916.5 640.2 906.5 641 898C641.8 889.5 643.2 877.2 647 870C650.8 862.8 657.7 856 664 855Z" fill="#fbdccb" filter="url(#b6)"/>
<path d="M665 868C670.8 866.8 682.2 871.3 690 878C697.8 884.7 706.7 899 712 908C717.3 917 725.7 928.7 722 932C718.3 935.3 700.3 930.8 690 928C679.7 925.2 665.8 922.2 660 915C654.2 907.8 654.2 892.8 655 885C655.8 877.2 659.2 869.2 665 868Z" fill="#f9c4ad" filter="url(#b6)"/>
<path d="M668 879C672.2 879.7 682.8 885 690 892C697.2 899 709.3 915.5 711 921C712.7 926.5 705.2 927.7 700 925C694.8 922.3 685.8 911.2 680 905C674.2 898.8 667 892.3 665 888C663 883.7 663.8 878.3 668 879Z" fill="#dc7f70" filter="url(#b5)"/>
<path d="M676 888C677.7 887.7 687 895 692 900C697 905 705.3 915.3 706 918C706.7 920.7 700 918.7 696 916C692 913.3 685.3 906.7 682 902C678.7 897.3 674.3 888.3 676 888Z" fill="#c96058" filter="url(#b3)"/>
<path d="M739 801C746.7 799 744.3 799.2 754 802C763.7 804.8 781 811.8 797 818C813 824.2 834.2 831.5 850 839C865.8 846.5 881.5 855.5 892 863C902.5 870.5 906.7 879.5 913 884C919.3 888.5 923.5 884.7 930 890C936.5 895.3 946.3 907.8 952 916C957.7 924.2 961.2 931.7 964 939C966.8 946.3 969 952.8 969 960C969 967.2 965.5 968.7 964 982C962.5 995.3 970.7 1015.3 960 1040C949.3 1064.7 916.7 1118.3 900 1130C883.3 1141.7 876.5 1127.7 860 1110C843.5 1092.3 813.3 1040.8 801 1024C788.7 1007.2 792 1016 786 1009C780 1002 771 990.2 765 982C759 973.8 755.3 970.7 750 960C744.7 949.3 737.7 930.3 733 918C728.3 905.7 727 897.3 722 886C717 874.7 707.5 859.5 703 850C698.5 840.5 694.2 835 695 829C695.8 823 700.7 818.7 708 814C715.3 809.3 731.3 803 739 801Z" fill="#e5edf7" filter="url(#b7)"/>
<path d="M746 808C757 805.2 771.5 816.3 786 822C800.5 827.7 822.3 835.2 833 842C843.7 848.8 841.8 855.7 850 863C858.2 870.3 873.8 877.8 882 886C890.2 894.2 895.5 901.3 899 912C902.5 922.7 901.7 936.7 903 950C904.3 963.3 907 976.2 907 992C907 1007.8 904.5 1033.7 903 1045C901.5 1056.3 902.2 1051.3 898 1060C893.8 1068.7 882.7 1087 878 1097C873.3 1107 876.3 1121.2 870 1120C863.7 1118.8 851.8 1106.3 840 1090C828.2 1073.7 809.8 1038.3 799 1022C788.2 1005.7 782.5 1003.3 775 992C767.5 980.7 760.3 968.2 754 954C747.7 939.8 742.3 921.8 737 907C731.7 892.2 724.8 876.3 722 865C719.2 853.7 716 848.5 720 839C724 829.5 735 810.8 746 808Z" fill="#c3dcec" filter="url(#b7)"/>
<path d="M748 818C758 817.5 776.3 826.7 790 832C803.7 837.3 820.8 842 830 850C839.2 858 841.7 866.7 845 880C848.3 893.3 848.3 911.7 850 930C851.7 948.3 855 970 855 990C855 1010 853.3 1038.3 850 1050C846.7 1061.7 841.7 1065 835 1060C828.3 1055 818.3 1032.5 810 1020C801.7 1007.5 793.3 997.5 785 985C776.7 972.5 767.2 959.2 760 945C752.8 930.8 747 914.2 742 900C737 885.8 732 870.8 730 860C728 849.2 727 842 730 835C733 828 738 818.5 748 818Z" fill="#a3cae3" filter="url(#b8)"/>
<path d="M750 830C760.3 827.5 785.8 836.7 800 845C814.2 853.3 828.3 864.2 835 880C841.7 895.8 840.8 920 840 940C839.2 960 835 990 830 1000C825 1010 818.3 1006.7 810 1000C801.7 993.3 789.2 975 780 960C770.8 945 762 926.7 755 910C748 893.3 738.8 873.3 738 860C737.2 846.7 739.7 832.5 750 830Z" fill="#9cc5e1" filter="url(#b8)"/>
<path d="M790 990C794.2 980.8 825 976.7 835 985C845 993.3 846.7 1022.5 850 1040C853.3 1057.5 857.5 1082.5 855 1090C852.5 1097.5 842.5 1093.3 835 1085C827.5 1076.7 817.5 1055.8 810 1040C802.5 1024.2 785.8 999.2 790 990Z" fill="#a6cce5" filter="url(#b8)"/>

<path d="M-134.6 989.9A1020 1020 0 0 1 1176.6 989.9L1157.4 1012.9A990 990 0 0 0 -115.4 1012.9Z" fill="#ffffff" opacity="0.65" filter="url(#b6)"/>
</g></g>
<g clip-path="url(#cb)" filter="url(#lsoft)">
<g fill="none" filter="url(#b2)" stroke="#e6d8ff" stroke-width="6.5" opacity="0.6" stroke-linejoin="round">
<path d="M298 800C309.7 801.5 312 816.5 317 824C322 831.5 328 836.2 328 845C328 853.8 322.3 864.7 317 877C311.7 889.3 303 904.8 296 919C289 933.2 282.2 949.7 275 962C267.8 974.3 258.3 984.2 253 993C247.7 1001.8 248.2 1007.8 243 1015C237.8 1022.2 229.2 1029.8 222 1036C214.8 1042.2 208.8 1047.7 200 1052C191.2 1056.3 177 1061.8 169 1062C161 1062.2 156.3 1057.3 152 1053C147.7 1048.7 146.7 1044.2 143 1036C139.3 1027.8 133.5 1018.2 130 1004C126.5 989.8 122.7 965.2 122 951C121.3 936.8 121.8 931 126 919C130.2 907 134.7 891.3 147 879C159.3 866.7 183.3 855.7 200 845C216.7 834.3 230.7 822.5 247 815C263.3 807.5 286.3 798.5 298 800Z"/>
<path d="M207 864C213.3 857.3 232 858.3 245 858C258 857.7 275.8 860 285 862C294.2 864 298.2 865 300 870C301.8 875 299.5 883.5 296 892C292.5 900.5 286.2 912.7 279 921C271.8 929.3 261.5 936.7 253 942C244.5 947.3 235.7 952.2 228 953C220.3 953.8 212.3 951.7 207 947C201.7 942.3 196 933.2 196 925C196 916.8 205.2 908.2 207 898C208.8 887.8 200.7 870.7 207 864Z"/>
<path d="M86 1010C90.9 1015.7 113.9 1042.7 123 1053C132.1 1063.3 147.1 1082.9 154 1087C160.9 1091.1 170.2 1085.7 175 1084C179.8 1082.3 182.9 1078.7 190 1074C197.1 1069.3 220.1 1055.1 228 1049C235.9 1042.9 245.3 1033.2 249 1028C252.7 1022.8 252.5 1017.1 256 1010C259.5 1002.9 268.5 984.3 275 975C281.5 965.7 299 950.3 305 940C311 929.7 315.5 908.7 320 898C324.5 887.3 333.9 867.6 339 860C344.1 852.4 353.5 848.1 358 841C362.5 833.9 367.4 813 373 807C378.6 801 392.1 798 400 796C407.9 794 424.9 792.3 432 792C439.1 791.7 447.3 794.1 453 794C458.7 793.9 469.8 790.7 475 791C480.2 791.3 489.2 796.1 492 796C494.8 795.9 493.2 788.7 496 790C498.8 791.3 508.7 805.7 513 806C517.3 806.3 524.7 793.1 528 792C531.3 790.9 536 795.5 538 798C540 800.5 541.3 811.3 543 811C544.7 810.7 549.1 795.7 551 796C552.9 796.3 555.8 807.9 557 813C558.2 818.1 558.5 830.3 560 834C561.5 837.7 566.7 833.9 568 841C569.3 848.1 568.8 873.8 570 887C571.2 900.2 574.2 928.1 577 940C579.8 951.9 586.9 968.3 591 976C595.1 983.7 603.9 995.3 608 998C612.1 1000.7 620.1 996.3 622 996"/>
<path d="M700 983L715 979L730 983L732 974L743 979L745 968L753 977L760 979"/>
<path d="M379 860C381.8 861.1 395.7 863.7 400 868C404.3 872.3 408.1 883.7 411 892C413.9 900.3 418.7 919.3 422 930C425.3 940.7 431.9 962.9 436 972C440.1 981.1 447.8 990.9 453 998C458.2 1005.1 469.3 1019.1 475 1025C480.7 1030.9 490 1038.4 496 1042C502 1045.6 511.5 1050.1 520 1052C528.5 1053.9 550.9 1055.9 560 1056C569.1 1056.1 580.4 1055.3 588 1053C595.6 1050.7 609.1 1041.5 617 1039C624.9 1036.5 637.4 1034.9 647 1034C656.6 1033.1 679.3 1032.5 689 1032C698.7 1031.5 711.6 1031.3 720 1030C728.4 1028.7 744.1 1023.9 752 1022C759.9 1020.1 772.6 1015.7 779 1016C785.4 1016.3 798.5 1018.1 800 1024C801.5 1029.9 790 1060 790 1060C790 1060 798.7 1028.8 800 1024"/>
<path d="M273 1060C275.8 1056.8 290.7 1042 294 1036C297.3 1030 298 1020.7 298 1015C298 1009.3 293.1 1000.1 294 993C294.9 985.9 303 969.1 305 962C307 954.9 306.2 947.7 309 940C311.8 932.3 320.3 913.3 326 904C331.7 894.7 344.9 875.9 352 870C359.1 864.1 375.4 861.3 379 860"/>
<path d="M157 1125C165.3 1121.5 191.7 1111.7 207 1104C222.3 1096.3 236.8 1087.5 249 1079C261.2 1070.5 272.3 1060.8 280 1053C287.7 1045.2 292 1038.3 295 1032C298 1025.7 297.5 1017.8 298 1015"/>
<path d="M184 1154C194.8 1150.2 227.7 1140 249 1131C270.3 1122 295.2 1108.3 312 1100C328.8 1091.7 339.5 1085.3 350 1081C360.5 1076.7 363.8 1075.8 375 1074C386.2 1072.2 403 1070 417 1070C431 1070 445.2 1072.2 459 1074C472.8 1075.8 482.7 1079.5 500 1081C517.3 1082.5 547.3 1083.7 563 1083C578.7 1082.3 581.2 1077.2 594 1077C606.8 1076.8 624.2 1080.2 640 1082C655.8 1083.8 673.8 1086.5 689 1088C704.2 1089.5 718.8 1088.7 731 1091C743.2 1093.3 751.5 1097.5 762 1102C772.5 1106.5 783.5 1112.2 794 1118C804.5 1123.8 813.8 1130.3 825 1137C836.2 1143.7 851.8 1152.5 861 1158C870.2 1163.5 876.8 1168 880 1170"/>
<path d="M366 812C362.5 817.5 351.8 833.7 345 845C338.2 856.3 331.7 868.3 325 880C318.3 891.7 311.7 903.3 305 915C298.3 926.7 290.8 940 285 950C279.2 960 272.5 970.8 270 975"/>
<path d="M372 822C368.3 827.5 357 843.7 350 855C343 866.3 336.3 878.8 330 890C323.7 901.2 317.8 911.2 312 922C306.2 932.8 297.8 949.5 295 955"/>
<path d="M300 960L290 985L280 990L292 975"/>
<path d="M664 855C669.1 854.2 680.2 860.5 685 864C689.8 867.5 696 875.7 700 881C704 886.3 711.5 897.7 715 904C718.5 910.3 723.3 922.5 726 928C728.7 933.5 738.5 943.4 735 945C731.5 946.6 710 942.3 700 940C690 937.7 666.4 930 660 928C653.6 926 654.4 925.9 652 925C649.6 924.1 643.5 924.6 642 921C640.5 917.4 640.3 904.8 641 898C641.7 891.2 643.9 875.7 647 870C650.1 864.3 658.9 855.8 664 855Z"/>
<path d="M746 808C752.7 810.3 771.5 816.3 786 822C800.5 827.7 822.3 835.2 833 842C843.7 848.8 841.8 855.7 850 863C858.2 870.3 873.8 877.8 882 886C890.2 894.2 895.5 901.3 899 912C902.5 922.7 901.7 936.7 903 950C904.3 963.3 907 980 907 992C907 1004 904.3 1010.7 903 1022C901.7 1033.3 903.2 1047.5 899 1060C894.8 1072.5 881.8 1088.7 878 1097C874.2 1105.3 875 1104.7 876 1110C877 1115.3 882.7 1125.8 884 1129"/>
<path d="M746 808C741.7 813.2 724 829.5 720 839C716 848.5 719.2 853.7 722 865C724.8 876.3 731.7 892.2 737 907C742.3 921.8 747.7 939.8 754 954C760.3 968.2 767.5 980.7 775 992C782.5 1003.3 795 1017 799 1022"/>
<path d="M801 1024C798.5 1021.5 792 1016 786 1009C780 1002 771 990.2 765 982C759 973.8 755.3 970.7 750 960C744.7 949.3 737.7 930.3 733 918C728.3 905.7 727 897.3 722 886C717 874.7 707.5 859.5 703 850C698.5 840.5 694.2 835 695 829C695.8 823 700.7 818.7 708 814C715.3 809.3 731.3 803 739 801C746.7 799 744.3 799.2 754 802C763.7 804.8 781 811.8 797 818C813 824.2 834.2 831.5 850 839C865.8 846.5 882.5 857 892 863C901.5 869 903.5 871.5 907 875C910.5 878.5 909.2 881.5 913 884C916.8 886.5 923.5 884.7 930 890C936.5 895.3 946.3 907.8 952 916C957.7 924.2 961.2 931.7 964 939C966.8 946.3 969 952.8 969 960C969 967.2 965.2 975.8 964 982C962.8 988.2 962.3 994.5 962 997"/>
</g>
<g fill="none" stroke="#8d86b6" stroke-width="1.1" opacity="0.64" stroke-linejoin="round">
<path d="M298 800C309.7 801.5 312 816.5 317 824C322 831.5 328 836.2 328 845C328 853.8 322.3 864.7 317 877C311.7 889.3 303 904.8 296 919C289 933.2 282.2 949.7 275 962C267.8 974.3 258.3 984.2 253 993C247.7 1001.8 248.2 1007.8 243 1015C237.8 1022.2 229.2 1029.8 222 1036C214.8 1042.2 208.8 1047.7 200 1052C191.2 1056.3 177 1061.8 169 1062C161 1062.2 156.3 1057.3 152 1053C147.7 1048.7 146.7 1044.2 143 1036C139.3 1027.8 133.5 1018.2 130 1004C126.5 989.8 122.7 965.2 122 951C121.3 936.8 121.8 931 126 919C130.2 907 134.7 891.3 147 879C159.3 866.7 183.3 855.7 200 845C216.7 834.3 230.7 822.5 247 815C263.3 807.5 286.3 798.5 298 800Z" stroke="#9a86c4"/>
<path d="M207 864C213.3 857.3 232 858.3 245 858C258 857.7 275.8 860 285 862C294.2 864 298.2 865 300 870C301.8 875 299.5 883.5 296 892C292.5 900.5 286.2 912.7 279 921C271.8 929.3 261.5 936.7 253 942C244.5 947.3 235.7 952.2 228 953C220.3 953.8 212.3 951.7 207 947C201.7 942.3 196 933.2 196 925C196 916.8 205.2 908.2 207 898C208.8 887.8 200.7 870.7 207 864Z" stroke="#c08aa8"/>
<path d="M86 1010C90.9 1015.7 113.9 1042.7 123 1053C132.1 1063.3 147.1 1082.9 154 1087C160.9 1091.1 170.2 1085.7 175 1084C179.8 1082.3 182.9 1078.7 190 1074C197.1 1069.3 220.1 1055.1 228 1049C235.9 1042.9 245.3 1033.2 249 1028C252.7 1022.8 252.5 1017.1 256 1010C259.5 1002.9 268.5 984.3 275 975C281.5 965.7 299 950.3 305 940C311 929.7 315.5 908.7 320 898C324.5 887.3 333.9 867.6 339 860C344.1 852.4 353.5 848.1 358 841C362.5 833.9 367.4 813 373 807C378.6 801 392.1 798 400 796C407.9 794 424.9 792.3 432 792C439.1 791.7 447.3 794.1 453 794C458.7 793.9 469.8 790.7 475 791C480.2 791.3 489.2 796.1 492 796C494.8 795.9 493.2 788.7 496 790C498.8 791.3 508.7 805.7 513 806C517.3 806.3 524.7 793.1 528 792C531.3 790.9 536 795.5 538 798C540 800.5 541.3 811.3 543 811C544.7 810.7 549.1 795.7 551 796C552.9 796.3 555.8 807.9 557 813C558.2 818.1 558.5 830.3 560 834C561.5 837.7 566.7 833.9 568 841C569.3 848.1 568.8 873.8 570 887C571.2 900.2 574.2 928.1 577 940C579.8 951.9 586.9 968.3 591 976C595.1 983.7 603.9 995.3 608 998C612.1 1000.7 620.1 996.3 622 996"/>
<path d="M700 983L715 979L730 983L732 974L743 979L745 968L753 977L760 979"/>
<path d="M379 860C381.8 861.1 395.7 863.7 400 868C404.3 872.3 408.1 883.7 411 892C413.9 900.3 418.7 919.3 422 930C425.3 940.7 431.9 962.9 436 972C440.1 981.1 447.8 990.9 453 998C458.2 1005.1 469.3 1019.1 475 1025C480.7 1030.9 490 1038.4 496 1042C502 1045.6 511.5 1050.1 520 1052C528.5 1053.9 550.9 1055.9 560 1056C569.1 1056.1 580.4 1055.3 588 1053C595.6 1050.7 609.1 1041.5 617 1039C624.9 1036.5 637.4 1034.9 647 1034C656.6 1033.1 679.3 1032.5 689 1032C698.7 1031.5 711.6 1031.3 720 1030C728.4 1028.7 744.1 1023.9 752 1022C759.9 1020.1 772.6 1015.7 779 1016C785.4 1016.3 798.5 1018.1 800 1024C801.5 1029.9 790 1060 790 1060C790 1060 798.7 1028.8 800 1024"/>
<path d="M273 1060C275.8 1056.8 290.7 1042 294 1036C297.3 1030 298 1020.7 298 1015C298 1009.3 293.1 1000.1 294 993C294.9 985.9 303 969.1 305 962C307 954.9 306.2 947.7 309 940C311.8 932.3 320.3 913.3 326 904C331.7 894.7 344.9 875.9 352 870C359.1 864.1 375.4 861.3 379 860"/>
<path d="M157 1125C165.3 1121.5 191.7 1111.7 207 1104C222.3 1096.3 236.8 1087.5 249 1079C261.2 1070.5 272.3 1060.8 280 1053C287.7 1045.2 292 1038.3 295 1032C298 1025.7 297.5 1017.8 298 1015"/>
<path d="M184 1154C194.8 1150.2 227.7 1140 249 1131C270.3 1122 295.2 1108.3 312 1100C328.8 1091.7 339.5 1085.3 350 1081C360.5 1076.7 363.8 1075.8 375 1074C386.2 1072.2 403 1070 417 1070C431 1070 445.2 1072.2 459 1074C472.8 1075.8 482.7 1079.5 500 1081C517.3 1082.5 547.3 1083.7 563 1083C578.7 1082.3 581.2 1077.2 594 1077C606.8 1076.8 624.2 1080.2 640 1082C655.8 1083.8 673.8 1086.5 689 1088C704.2 1089.5 718.8 1088.7 731 1091C743.2 1093.3 751.5 1097.5 762 1102C772.5 1106.5 783.5 1112.2 794 1118C804.5 1123.8 813.8 1130.3 825 1137C836.2 1143.7 851.8 1152.5 861 1158C870.2 1163.5 876.8 1168 880 1170"/>
<path d="M366 812C362.5 817.5 351.8 833.7 345 845C338.2 856.3 331.7 868.3 325 880C318.3 891.7 311.7 903.3 305 915C298.3 926.7 290.8 940 285 950C279.2 960 272.5 970.8 270 975"/>
<path d="M372 822C368.3 827.5 357 843.7 350 855C343 866.3 336.3 878.8 330 890C323.7 901.2 317.8 911.2 312 922C306.2 932.8 297.8 949.5 295 955"/>
<path d="M300 960L290 985L280 990L292 975"/>
<path d="M664 855C669.1 854.2 680.2 860.5 685 864C689.8 867.5 696 875.7 700 881C704 886.3 711.5 897.7 715 904C718.5 910.3 723.3 922.5 726 928C728.7 933.5 738.5 943.4 735 945C731.5 946.6 710 942.3 700 940C690 937.7 666.4 930 660 928C653.6 926 654.4 925.9 652 925C649.6 924.1 643.5 924.6 642 921C640.5 917.4 640.3 904.8 641 898C641.7 891.2 643.9 875.7 647 870C650.1 864.3 658.9 855.8 664 855Z" stroke="#b08fc0"/>
<path d="M746 808C752.7 810.3 771.5 816.3 786 822C800.5 827.7 822.3 835.2 833 842C843.7 848.8 841.8 855.7 850 863C858.2 870.3 873.8 877.8 882 886C890.2 894.2 895.5 901.3 899 912C902.5 922.7 901.7 936.7 903 950C904.3 963.3 907 980 907 992C907 1004 904.3 1010.7 903 1022C901.7 1033.3 903.2 1047.5 899 1060C894.8 1072.5 881.8 1088.7 878 1097C874.2 1105.3 875 1104.7 876 1110C877 1115.3 882.7 1125.8 884 1129"/>
<path d="M746 808C741.7 813.2 724 829.5 720 839C716 848.5 719.2 853.7 722 865C724.8 876.3 731.7 892.2 737 907C742.3 921.8 747.7 939.8 754 954C760.3 968.2 767.5 980.7 775 992C782.5 1003.3 795 1017 799 1022"/>
<path d="M801 1024C798.5 1021.5 792 1016 786 1009C780 1002 771 990.2 765 982C759 973.8 755.3 970.7 750 960C744.7 949.3 737.7 930.3 733 918C728.3 905.7 727 897.3 722 886C717 874.7 707.5 859.5 703 850C698.5 840.5 694.2 835 695 829C695.8 823 700.7 818.7 708 814C715.3 809.3 731.3 803 739 801C746.7 799 744.3 799.2 754 802C763.7 804.8 781 811.8 797 818C813 824.2 834.2 831.5 850 839C865.8 846.5 882.5 857 892 863C901.5 869 903.5 871.5 907 875C910.5 878.5 909.2 881.5 913 884C916.8 886.5 923.5 884.7 930 890C936.5 895.3 946.3 907.8 952 916C957.7 924.2 961.2 931.7 964 939C966.8 946.3 969 952.8 969 960C969 967.2 965.2 975.8 964 982C962.8 988.2 962.3 994.5 962 997"/>
</g>
</g>
<g class="cl" filter="url(#tsoft)" font-size="20.8">
<text x="250" y="861">1.4E+06</text>
<text x="185" y="1054">1.1E+06</text>
<text x="195" y="1092">8.6E+05</text>
<text x="519" y="1057" transform="rotate(-4 519 1057)">5.7E+05</text>
<text x="697" y="910">1.4E+06</text>
<text x="696" y="948">1.1E+06</text>
<text x="659" y="992">8.6E+05</text>
<text x="649" y="1097">2.9E+05</text>
</g>
<g filter="url(#soft)"><g clip-path="url(#cc)">
<rect x="1303.2" y="235" width="1031.7" height="428" fill="#f8f6f6"/>
<path d="M1169.8 458.3A1010 1010 0 0 1 2468.2 458.3L2416.8 519.6A930 930 0 0 0 1221.2 519.6Z" fill="#fbe2d4" filter="url(#b16)"/>
<path d="M1169.8 458.3A1010 1010 0 0 1 2468.2 458.3L2439.3 492.8A965 965 0 0 0 1198.7 492.8Z" fill="#fbdac8" opacity="0.9" filter="url(#b9)"/>
<path d="M1320 360C1335 336.7 1403.3 316.3 1450 300C1496.7 283.7 1570.8 265.3 1600 262C1629.2 258.7 1625 267 1625 280C1625 293 1610.8 320 1600 340C1589.2 360 1570 381.7 1560 400C1550 418.3 1550 437.5 1540 450C1530 462.5 1516.7 470.3 1500 475C1483.3 479.7 1456.7 481.3 1440 478C1423.3 474.7 1413.3 461.3 1400 455C1386.7 448.7 1373.3 455.8 1360 440C1346.7 424.2 1305 383.3 1320 360Z" fill="#fbe2d3" filter="url(#b12)"/>
<path d="M1340 380C1350 361.7 1420 338.3 1450 330C1480 321.7 1510 311.7 1520 330C1530 348.3 1523.3 418.3 1510 440C1496.7 461.7 1460 460 1440 460C1420 460 1406.7 453.3 1390 440C1373.3 426.7 1330 398.3 1340 380Z" fill="#fcdfce" filter="url(#b14)"/>
<path d="M1380 470C1376.7 445 1430 468.3 1450 490C1470 511.7 1496.7 575 1500 600C1503.3 625 1490 661.7 1470 640C1450 618.3 1383.3 495 1380 470Z" fill="#f4f2f2" filter="url(#b14)"/>
<path d="M1700 250C1741.3 242.5 1911.7 249.2 1960 255C2008.3 260.8 2000 274.2 1990 285C1980 295.8 1920 305.8 1900 320C1880 334.2 1880 352.5 1870 370C1860 387.5 1855 413.3 1840 425C1825 436.7 1794.2 445 1780 440C1765.8 435 1764.2 411.7 1755 395C1745.8 378.3 1732.2 355.8 1725 340C1717.8 324.2 1716.2 315 1712 300C1707.8 285 1658.7 257.5 1700 250Z" fill="#f9ece5" filter="url(#b14)"/>
<path d="M1730 300C1749.2 283.3 1860 286.7 1880 300C1900 313.3 1863.3 360 1850 380C1836.7 400 1814.2 416.7 1800 420C1785.8 423.3 1776.7 420 1765 400C1753.3 380 1710.8 316.7 1730 300Z" fill="#f8ebe3" filter="url(#b12)"/>
<path d="M2044 284C2039.8 286.8 2030.7 290.7 2025 296C2019.3 301.3 2015.3 306.7 2010 316C2004.7 325.3 1998.3 340.3 1993 352C1987.7 363.7 1982.2 374.3 1978 386C1973.8 397.7 1971 409 1968 422C1965 435 1962.2 452.7 1960 464C1957.8 475.3 1957.2 482 1955 490C1952.8 498 1951.8 505.8 1947 512C1942.2 518.2 1934.8 523.2 1926 527C1917.2 530.8 1905.5 533.3 1894 535C1882.5 536.7 1872.7 536.8 1857 537C1841.3 537.2 1816.7 536.7 1800 536C1783.3 535.3 1767.7 535.2 1757 533C1746.3 530.8 1742 524.3 1736 523C1730 521.7 1726.3 522.2 1721 525C1715.7 527.8 1710.3 535.2 1704 540C1697.7 544.8 1691.7 548.5 1683 554C1674.3 559.5 1662.5 567.7 1652 573C1641.5 578.3 1630.5 582.5 1620 586C1609.5 589.5 1601.2 592.7 1589 594C1576.8 595.3 1559.3 593 1547 594C1534.7 595 1525.5 598.8 1515 600C1504.5 601.2 1494.5 603 1484 601C1473.5 599 1459.3 581.5 1452 588C1444.7 594.5 1432 621.3 1440 640C1448 658.7 1381.7 690 1500 700C1618.3 710 2037 716.7 2150 700C2263 683.3 2173.3 621.5 2178 600C2182.7 578.5 2177 577.2 2178 571C2179 564.8 2179.5 569.3 2184 563C2188.5 556.7 2200.5 542.8 2205 533C2209.5 523.2 2211 515.8 2211 504C2211 492.2 2206.7 472.2 2205 462C2203.3 451.8 2204.5 453.3 2201 443C2197.5 432.7 2190.3 413.2 2184 400C2177.7 386.8 2171.8 376.3 2163 364C2154.2 351.7 2143.5 337.3 2131 326C2118.5 314.7 2101.5 303.8 2088 296C2074.5 288.2 2057.3 281 2050 279C2042.7 277 2048.2 281.2 2044 284Z" fill="#e6eef5" filter="url(#b8)"/>
<path d="M2040 310C2058.3 296.7 2080 305 2100 320C2120 335 2145 373.3 2160 400C2175 426.7 2185.8 453.3 2190 480C2194.2 506.7 2191.7 533.3 2185 560C2178.3 586.7 2180.8 633.3 2150 640C2119.2 646.7 2026.7 623.3 2000 600C1973.3 576.7 1991.7 533.3 1990 500C1988.3 466.7 1981.7 431.7 1990 400C1998.3 368.3 2021.7 323.3 2040 310Z" fill="#e2ecf4" filter="url(#b14)"/>
<path d="M1369 695.8A700 700 0 0 1 2269 695.8L2240 730.2A655 655 0 0 0 1398 730.2Z" fill="#dbe9f3" opacity="0.95" filter="url(#b10)"/>
<path d="M1381.9 711.1A680 680 0 0 1 2256.1 711.1L2236.8 734.1A650 650 0 0 0 1401.2 734.1Z" fill="#d3e6f2" opacity="0.8" filter="url(#b7)"/>
<path d="M2075 278C2081.7 278 2124.2 293 2150 310C2175.8 327 2209.2 358.3 2230 380C2250.8 401.7 2277.5 416.7 2275 440C2272.5 463.3 2228.3 520 2215 520C2201.7 520 2204.2 465 2195 440C2185.8 415 2174.2 391.7 2160 370C2145.8 348.3 2124.2 325.3 2110 310C2095.8 294.7 2068.3 278 2075 278Z" fill="#f3f0f2" filter="url(#b8)"/>
<path d="M2150 295C2150 290.3 2170 309.5 2200 322C2230 334.5 2315.8 348.7 2330 370C2344.2 391.3 2299.2 445 2285 450C2270.8 455 2259.2 416.7 2245 400C2230.8 383.3 2215.8 367.5 2200 350C2184.2 332.5 2150 299.7 2150 295Z" fill="#fbddcc" filter="url(#b9)"/>
<path d="M1596 266C1609 265 1622 268.3 1628 271C1634 273.7 1633.7 275.3 1632 282C1630.3 288.7 1622.8 301.8 1618 311C1613.2 320.2 1608.3 328.2 1603 337C1597.7 345.8 1592.3 355.2 1586 364C1579.7 372.8 1570.3 383.2 1565 390C1559.7 396.8 1559.8 401.7 1554 405C1548.2 408.3 1539.5 409.3 1530 410C1520.5 410.7 1505.3 411.3 1497 409C1488.7 406.7 1485 402 1480 396C1475 390 1470.2 381.2 1467 373C1463.8 364.8 1460.7 356.2 1461 347C1461.3 337.8 1462.3 326.2 1469 318C1475.7 309.8 1487.5 304.8 1501 298C1514.5 291.2 1534.2 282.3 1550 277C1565.8 271.7 1583 267 1596 266Z" fill="#fbd3be" filter="url(#b6)"/>
<path d="M1590 272C1605.3 269 1619.5 269.2 1622 278C1624.5 286.8 1612.8 308.3 1605 325C1597.2 341.7 1584.5 365.2 1575 378C1565.5 390.8 1558.8 398.3 1548 402C1537.2 405.7 1520.5 404.5 1510 400C1499.5 395.5 1490.3 384.2 1485 375C1479.7 365.8 1477.2 354.5 1478 345C1478.8 335.5 1481.3 326.2 1490 318C1498.7 309.8 1513.3 303.7 1530 296C1546.7 288.3 1574.7 275 1590 272Z" fill="#f9c4a6" filter="url(#b8)"/>
<path d="M1560 290C1563.3 295 1546.7 316.7 1540 330C1533.3 343.3 1526.7 360.8 1520 370C1513.3 379.2 1505.8 386.7 1500 385C1494.2 383.3 1486.7 370 1485 360C1483.3 350 1484.2 335 1490 325C1495.8 315 1508.3 305.8 1520 300C1531.7 294.2 1556.7 285 1560 290Z" fill="#f8bd9a" filter="url(#b8)"/>
<path d="M1596 268C1603.3 270.2 1603.7 289.7 1604 300C1604.3 310.3 1602.3 318.7 1598 330C1593.7 341.3 1585.2 357.7 1578 368C1570.8 378.3 1562.7 389.2 1555 392C1547.3 394.8 1538.2 391.2 1532 385C1525.8 378.8 1519 366.2 1518 355C1517 343.8 1519 329.3 1526 318C1533 306.7 1548.3 295.3 1560 287C1571.7 278.7 1588.7 265.8 1596 268Z" fill="#f19080" filter="url(#b6)"/>
<path d="M1596 268C1602 268 1601 290.3 1601 300C1601 309.7 1599.5 316.7 1596 326C1592.5 335.3 1585.7 347.3 1580 356C1574.3 364.7 1567.8 376.5 1562 378C1556.2 379.5 1547.8 372.2 1545 365C1542.2 357.8 1541.7 345.8 1545 335C1548.3 324.2 1556.5 311.2 1565 300C1573.5 288.8 1590 268 1596 268Z" fill="#e2607a" filter="url(#b6)"/>
<path d="M1596 270C1598.3 272.5 1599.3 291.3 1599 300C1598.7 308.7 1597.2 314.3 1594 322C1590.8 329.7 1584.7 339.7 1580 346C1575.3 352.3 1569.3 360.2 1566 360C1562.7 359.8 1559.3 353 1560 345C1560.7 337 1565.8 322 1570 312C1574.2 302 1580.7 292 1585 285C1589.3 278 1593.7 267.5 1596 270Z" fill="#cf3d6c" filter="url(#b5)"/>
<path d="M1598 270C1602.7 266.3 1624.7 270.7 1630 273C1635.3 275.3 1632 278.2 1630 284C1628 289.8 1622.3 302.3 1618 308C1613.7 313.7 1606.7 320.2 1604 318C1601.3 315.8 1603 303 1602 295C1601 287 1593.3 273.7 1598 270Z" fill="#f7c2b4" opacity="0.85" filter="url(#b4)"/>
<path d="M2048 296C2053.7 294.7 2058.5 296 2067 301C2075.5 306 2089.3 316.5 2099 326C2108.7 335.5 2118.7 348 2125 358C2131.3 368 2134.5 377.8 2137 386C2139.5 394.2 2141 400.7 2140 407C2139 413.3 2135.3 420.2 2131 424C2126.7 427.8 2119.3 429.7 2114 430C2108.7 430.3 2104 429.8 2099 426C2094 422.2 2089.3 413.7 2084 407C2078.7 400.3 2072.7 394.2 2067 386C2061.3 377.8 2055.2 367.3 2050 358C2044.8 348.7 2038.8 338.2 2036 330C2033.2 321.8 2031 314.7 2033 309C2035 303.3 2042.3 297.3 2048 296Z" fill="#d4e5f2" filter="url(#b5)"/>
<path d="M2046 280C2051.5 280.5 2065.2 297.2 2075 308C2084.8 318.8 2096.7 332.2 2105 345C2113.3 357.8 2121.2 374.2 2125 385C2128.8 395.8 2130.2 403.8 2128 410C2125.8 416.2 2117.5 422 2112 422C2106.5 422 2101.2 417 2095 410C2088.8 403 2081.7 391.7 2075 380C2068.3 368.3 2060.5 352.5 2055 340C2049.5 327.5 2043.5 315 2042 305C2040.5 295 2040.5 279.5 2046 280Z" fill="#a6cfe6" filter="url(#b5)"/>
<path d="M2046 282C2049.3 282.3 2059.8 298.7 2068 312C2076.2 325.3 2087.7 346.5 2095 362C2102.3 377.5 2111.5 396.3 2112 405C2112.5 413.7 2103 417.3 2098 414C2093 410.7 2088 396.5 2082 385C2076 373.5 2067.7 357.5 2062 345C2056.3 332.5 2050.7 320.5 2048 310C2045.3 299.5 2042.7 281.7 2046 282Z" fill="#5a9fd0" filter="url(#b5)"/>
<path d="M2048 290C2049.7 290.3 2059.3 315 2066 330C2072.7 345 2082.3 367.2 2088 380C2093.7 392.8 2099.7 403.3 2100 407C2100.3 410.7 2094.7 409.8 2090 402C2085.3 394.2 2077.7 372.3 2072 360C2066.3 347.7 2060 339.7 2056 328C2052 316.3 2046.3 289.7 2048 290Z" fill="#3f88c4" filter="url(#b3)"/>
<path d="M1166.6 454.5A1015 1015 0 0 1 2471.4 454.5L2452.8 476.7A986 986 0 0 0 1185.2 476.7Z" fill="#ffffff" opacity="0.6" filter="url(#b5)"/>
</g></g>
<g clip-path="url(#cc)" filter="url(#lsoft)">
<g fill="none" filter="url(#b2)" stroke="#e6d8ff" stroke-width="6.5" opacity="0.6" stroke-linejoin="round">
<path d="M1596 266C1606.4 265.2 1623.2 268.9 1628 271C1632.8 273.1 1633.3 276.7 1632 282C1630.7 287.3 1621.9 303.7 1618 311C1614.1 318.3 1607.3 329.9 1603 337C1598.7 344.1 1591.1 356.9 1586 364C1580.9 371.1 1569.3 384.5 1565 390C1560.7 395.5 1558.7 402.3 1554 405C1549.3 407.7 1537.6 409.5 1530 410C1522.4 410.5 1503.7 410.9 1497 409C1490.3 407.1 1484 400.8 1480 396C1476 391.2 1469.5 379.5 1467 373C1464.5 366.5 1460.7 354.3 1461 347C1461.3 339.7 1463.7 324.5 1469 318C1474.3 311.5 1490.2 303.5 1501 298C1511.8 292.5 1537.3 281.3 1550 277C1562.7 272.7 1585.6 266.8 1596 266Z"/>
<path d="M1363 443C1365 443 1375.1 441.6 1380 443C1384.9 444.4 1399.3 452.1 1405 455C1410.7 457.9 1424.7 465.4 1429 468C1433.3 470.6 1437.2 475.6 1442 477C1446.8 478.4 1463.1 480.8 1470 480C1476.9 479.2 1494.5 472.1 1501 470C1507.5 467.9 1522 464.4 1526 462C1530 459.6 1533 453.4 1535 449C1537 444.6 1539.5 430.9 1543 424C1546.5 417.1 1560 396.5 1565 390C1570 383.5 1581.1 373.9 1586 368C1590.9 362.1 1602.8 344.4 1607 339C1611.2 333.6 1617 324.2 1622 322C1627 319.8 1645.6 320 1650 320C1654.4 320 1657.8 323.1 1660 322C1662.2 320.9 1665.5 312.5 1669 311C1672.5 309.5 1686.5 310.2 1690 309C1693.5 307.8 1697 303.2 1699 301C1701 298.8 1705.5 290.4 1707 290C1708.5 289.6 1711.2 295.8 1712 298C1712.8 300.2 1713.1 305.7 1714 309C1714.9 312.3 1718 319.6 1720 326C1722 332.4 1728.1 357.1 1731 364C1733.9 370.9 1741.8 381.5 1745 385C1748.2 388.5 1755.2 389.4 1758 394C1760.8 398.6 1767.2 418.3 1769 424C1770.8 429.7 1771.2 441.2 1773 443C1774.8 444.8 1782 438.5 1784 439C1786 439.5 1788.7 447.8 1790 447C1791.3 446.2 1792.8 434.9 1795 432C1797.2 429.1 1805.4 421.8 1809 422C1812.6 422.2 1823 433.8 1826 434C1829 434.2 1832.4 428 1835 424C1837.6 420 1845.1 407 1848 400C1850.9 393 1858 369.1 1860 364C1862 358.9 1863.5 355.5 1865 356C1866.5 356.5 1870.5 369.1 1873 368C1875.5 366.9 1883.3 352.4 1886 347C1888.7 341.6 1893.5 326 1896 322C1898.5 318 1903.3 314.8 1907 313C1910.7 311.2 1921.8 309.4 1928 307C1934.2 304.6 1952.5 295 1960 292C1967.5 289 1984.4 282.9 1992 281C1999.6 279.1 2018.9 276.8 2025 276C2031.1 275.2 2041.8 275.6 2044 274C2046.2 272.4 2044 263.4 2044 262"/>
<path d="M2044 284C2041.5 285.6 2029.5 291.7 2025 296C2020.5 300.3 2014.3 308.5 2010 316C2005.7 323.5 1997.3 342.7 1993 352C1988.7 361.3 1981.3 376.7 1978 386C1974.7 395.3 1970.4 411.6 1968 422C1965.6 432.4 1961.7 454.9 1960 464C1958.3 473.1 1956.7 483.6 1955 490C1953.3 496.4 1950.9 507.1 1947 512C1943.1 516.9 1933.1 523.9 1926 527C1918.9 530.1 1903.2 533.7 1894 535C1884.8 536.3 1869.5 536.9 1857 537C1844.5 537.1 1813.3 536.5 1800 536C1786.7 535.5 1765.5 534.7 1757 533C1748.5 531.3 1740.8 524.1 1736 523C1731.2 521.9 1725.3 522.7 1721 525C1716.7 527.3 1709.1 536.1 1704 540C1698.9 543.9 1689.9 549.6 1683 554C1676.1 558.4 1660.4 568.7 1652 573C1643.6 577.3 1628.4 583.2 1620 586C1611.6 588.8 1598.7 592.9 1589 594C1579.3 595.1 1556.9 593.2 1547 594C1537.1 594.8 1523.4 599.1 1515 600C1506.6 600.9 1492.4 602.6 1484 601C1475.6 599.4 1456.3 589.7 1452 588C1447.7 586.3 1452 588 1452 588"/>
<path d="M2044 270C2047.8 270.5 2056 269.7 2067 273C2078 276.3 2095.8 283.3 2110 290C2124.2 296.7 2137.8 303.8 2152 313C2166.2 322.2 2182.7 334.3 2195 345C2207.3 355.7 2216.5 366 2226 377C2235.5 388 2244.5 401 2252 411C2259.5 421 2267.8 432.7 2271 437"/>
<path d="M2044 272C2044.8 272.9 2044.1 275.8 2050 279C2055.9 282.2 2077.2 289.7 2088 296C2098.8 302.3 2121 316.9 2131 326C2141 335.1 2155.9 354.1 2163 364C2170.1 373.9 2178.9 389.5 2184 400C2189.1 410.5 2197.7 431.7 2201 443C2204.3 454.3 2207.7 476.9 2209 485C2210.3 493.1 2211.5 497.6 2211 504C2210.5 510.4 2208.6 525.1 2205 533C2201.4 540.9 2187.6 557.9 2184 563C2180.4 568.1 2179.5 566.1 2178 571C2176.5 575.9 2173.3 595.1 2173 600C2172.7 604.9 2175.6 606.9 2176 608"/>
<path d="M2048 296C2052.5 294.9 2060.2 297 2067 301C2073.8 305 2091.3 318.4 2099 326C2106.7 333.6 2119.9 350 2125 358C2130.1 366 2135 379.5 2137 386C2139 392.5 2140.8 401.9 2140 407C2139.2 412.1 2134.5 420.9 2131 424C2127.5 427.1 2118.3 429.7 2114 430C2109.7 430.3 2103 429.1 2099 426C2095 422.9 2088.3 412.3 2084 407C2079.7 401.7 2071.5 392.5 2067 386C2062.5 379.5 2054.1 365.5 2050 358C2045.9 350.5 2038.3 336.5 2036 330C2033.7 323.5 2031.4 313.5 2033 309C2034.6 304.5 2043.5 297.1 2048 296Z"/>
</g>
<g fill="none" stroke="#8d86b6" stroke-width="1.1" opacity="0.64" stroke-linejoin="round">
<path d="M1596 266C1606.4 265.2 1623.2 268.9 1628 271C1632.8 273.1 1633.3 276.7 1632 282C1630.7 287.3 1621.9 303.7 1618 311C1614.1 318.3 1607.3 329.9 1603 337C1598.7 344.1 1591.1 356.9 1586 364C1580.9 371.1 1569.3 384.5 1565 390C1560.7 395.5 1558.7 402.3 1554 405C1549.3 407.7 1537.6 409.5 1530 410C1522.4 410.5 1503.7 410.9 1497 409C1490.3 407.1 1484 400.8 1480 396C1476 391.2 1469.5 379.5 1467 373C1464.5 366.5 1460.7 354.3 1461 347C1461.3 339.7 1463.7 324.5 1469 318C1474.3 311.5 1490.2 303.5 1501 298C1511.8 292.5 1537.3 281.3 1550 277C1562.7 272.7 1585.6 266.8 1596 266Z" stroke="#a98fc2"/>
<path d="M1596 266C1604.1 265.4 1617.2 268.2 1621 269.9C1624.7 271.6 1625.1 274.3 1624.1 278.5C1623 282.6 1616.2 295.4 1613.2 301.1C1610.1 306.8 1604.8 315.9 1601.5 321.4C1598.1 326.9 1592.2 336.9 1588.2 342.4C1584.2 348 1575.1 358.5 1571.8 362.7C1568.5 367 1566.9 372.3 1563.2 374.4C1559.6 376.5 1550.4 377.9 1544.5 378.3C1538.6 378.7 1524 379 1518.8 377.5C1513.6 376.1 1508.6 371.1 1505.5 367.4C1502.4 363.7 1497.4 354.6 1495.4 349.5C1493.4 344.4 1490.5 334.9 1490.7 329.2C1490.9 323.5 1492.8 311.7 1496.9 306.6C1501.1 301.5 1513.5 295.2 1521.9 291C1530.3 286.7 1550.2 277.9 1560.1 274.6C1570 271.3 1587.9 266.6 1596 266Z" stroke="#c090b0" stroke-width="0.9"/>
<path d="M1596 266C1602 265.5 1611.8 267.7 1614.6 268.9C1617.3 270.1 1617.7 272.2 1616.9 275.3C1616.1 278.4 1611 287.8 1608.8 292.1C1606.5 296.4 1602.5 303.1 1600.1 307.2C1597.6 311.3 1593.1 318.7 1590.2 322.8C1587.3 326.9 1580.5 334.7 1578 337.9C1575.5 341.1 1574.3 345.1 1571.6 346.6C1568.9 348.2 1562.1 349.2 1557.7 349.5C1553.3 349.8 1542.4 350 1538.6 348.9C1534.7 347.9 1531 344.2 1528.7 341.4C1526.4 338.6 1522.6 331.8 1521.2 328.1C1519.7 324.3 1517.5 317.2 1517.7 313C1517.9 308.7 1519.2 299.9 1522.3 296.2C1525.4 292.4 1534.6 287.7 1540.9 284.6C1547.2 281.4 1562 274.9 1569.3 272.4C1576.7 269.9 1590 266.5 1596 266Z" stroke="#c880a0" stroke-width="0.9"/>
<path d="M1596 266C1600 265.7 1606.3 267.1 1608.2 267.9C1610 268.7 1610.2 270.1 1609.7 272.1C1609.2 274.1 1605.8 280.3 1604.4 283.1C1602.9 285.9 1600.3 290.3 1598.7 293C1597 295.7 1594.1 300.6 1592.2 303.2C1590.3 305.9 1585.8 311 1584.2 313.1C1582.6 315.2 1581.8 317.8 1580 318.8C1578.3 319.8 1573.8 320.5 1570.9 320.7C1568 320.9 1560.9 321 1558.4 320.3C1555.8 319.6 1553.4 317.2 1551.9 315.4C1550.4 313.6 1547.9 309.1 1547 306.7C1546 304.2 1544.6 299.6 1544.7 296.8C1544.8 294 1545.7 288.2 1547.7 285.8C1549.8 283.3 1555.8 280.2 1559.9 278.2C1564 276.1 1573.7 271.8 1578.5 270.2C1583.3 268.6 1592 266.3 1596 266Z" stroke="#c87098" stroke-width="0.9"/>
<path d="M1363 443C1365 443 1375.1 441.6 1380 443C1384.9 444.4 1399.3 452.1 1405 455C1410.7 457.9 1424.7 465.4 1429 468C1433.3 470.6 1437.2 475.6 1442 477C1446.8 478.4 1463.1 480.8 1470 480C1476.9 479.2 1494.5 472.1 1501 470C1507.5 467.9 1522 464.4 1526 462C1530 459.6 1533 453.4 1535 449C1537 444.6 1539.5 430.9 1543 424C1546.5 417.1 1560 396.5 1565 390C1570 383.5 1581.1 373.9 1586 368C1590.9 362.1 1602.8 344.4 1607 339C1611.2 333.6 1617 324.2 1622 322C1627 319.8 1645.6 320 1650 320C1654.4 320 1657.8 323.1 1660 322C1662.2 320.9 1665.5 312.5 1669 311C1672.5 309.5 1686.5 310.2 1690 309C1693.5 307.8 1697 303.2 1699 301C1701 298.8 1705.5 290.4 1707 290C1708.5 289.6 1711.2 295.8 1712 298C1712.8 300.2 1713.1 305.7 1714 309C1714.9 312.3 1718 319.6 1720 326C1722 332.4 1728.1 357.1 1731 364C1733.9 370.9 1741.8 381.5 1745 385C1748.2 388.5 1755.2 389.4 1758 394C1760.8 398.6 1767.2 418.3 1769 424C1770.8 429.7 1771.2 441.2 1773 443C1774.8 444.8 1782 438.5 1784 439C1786 439.5 1788.7 447.8 1790 447C1791.3 446.2 1792.8 434.9 1795 432C1797.2 429.1 1805.4 421.8 1809 422C1812.6 422.2 1823 433.8 1826 434C1829 434.2 1832.4 428 1835 424C1837.6 420 1845.1 407 1848 400C1850.9 393 1858 369.1 1860 364C1862 358.9 1863.5 355.5 1865 356C1866.5 356.5 1870.5 369.1 1873 368C1875.5 366.9 1883.3 352.4 1886 347C1888.7 341.6 1893.5 326 1896 322C1898.5 318 1903.3 314.8 1907 313C1910.7 311.2 1921.8 309.4 1928 307C1934.2 304.6 1952.5 295 1960 292C1967.5 289 1984.4 282.9 1992 281C1999.6 279.1 2018.9 276.8 2025 276C2031.1 275.2 2041.8 275.6 2044 274C2046.2 272.4 2044 263.4 2044 262"/>
<path d="M2044 284C2041.5 285.6 2029.5 291.7 2025 296C2020.5 300.3 2014.3 308.5 2010 316C2005.7 323.5 1997.3 342.7 1993 352C1988.7 361.3 1981.3 376.7 1978 386C1974.7 395.3 1970.4 411.6 1968 422C1965.6 432.4 1961.7 454.9 1960 464C1958.3 473.1 1956.7 483.6 1955 490C1953.3 496.4 1950.9 507.1 1947 512C1943.1 516.9 1933.1 523.9 1926 527C1918.9 530.1 1903.2 533.7 1894 535C1884.8 536.3 1869.5 536.9 1857 537C1844.5 537.1 1813.3 536.5 1800 536C1786.7 535.5 1765.5 534.7 1757 533C1748.5 531.3 1740.8 524.1 1736 523C1731.2 521.9 1725.3 522.7 1721 525C1716.7 527.3 1709.1 536.1 1704 540C1698.9 543.9 1689.9 549.6 1683 554C1676.1 558.4 1660.4 568.7 1652 573C1643.6 577.3 1628.4 583.2 1620 586C1611.6 588.8 1598.7 592.9 1589 594C1579.3 595.1 1556.9 593.2 1547 594C1537.1 594.8 1523.4 599.1 1515 600C1506.6 600.9 1492.4 602.6 1484 601C1475.6 599.4 1456.3 589.7 1452 588C1447.7 586.3 1452 588 1452 588"/>
<path d="M2044 270C2047.8 270.5 2056 269.7 2067 273C2078 276.3 2095.8 283.3 2110 290C2124.2 296.7 2137.8 303.8 2152 313C2166.2 322.2 2182.7 334.3 2195 345C2207.3 355.7 2216.5 366 2226 377C2235.5 388 2244.5 401 2252 411C2259.5 421 2267.8 432.7 2271 437"/>
<path d="M2044 272C2044.8 272.9 2044.1 275.8 2050 279C2055.9 282.2 2077.2 289.7 2088 296C2098.8 302.3 2121 316.9 2131 326C2141 335.1 2155.9 354.1 2163 364C2170.1 373.9 2178.9 389.5 2184 400C2189.1 410.5 2197.7 431.7 2201 443C2204.3 454.3 2207.7 476.9 2209 485C2210.3 493.1 2211.5 497.6 2211 504C2210.5 510.4 2208.6 525.1 2205 533C2201.4 540.9 2187.6 557.9 2184 563C2180.4 568.1 2179.5 566.1 2178 571C2176.5 575.9 2173.3 595.1 2173 600C2172.7 604.9 2175.6 606.9 2176 608"/>
<path d="M2048 296C2052.5 294.9 2060.2 297 2067 301C2073.8 305 2091.3 318.4 2099 326C2106.7 333.6 2119.9 350 2125 358C2130.1 366 2135 379.5 2137 386C2139 392.5 2140.8 401.9 2140 407C2139.2 412.1 2134.5 420.9 2131 424C2127.5 427.1 2118.3 429.7 2114 430C2109.7 430.3 2103 429.1 2099 426C2095 422.9 2088.3 412.3 2084 407C2079.7 401.7 2071.5 392.5 2067 386C2062.5 379.5 2054.1 365.5 2050 358C2045.9 350.5 2038.3 336.5 2036 330C2033.7 323.5 2031.4 313.5 2033 309C2034.6 304.5 2043.5 297.1 2048 296Z"/>
</g>
</g>
<g class="cl" filter="url(#tsoft)" font-size="20.8">
<text x="1579" y="325">2.5E+06</text>
<text x="1559" y="350">2.1E+06</text>
<text x="1543" y="372">1.8E+06</text>
<text x="1549" y="396">1.4E+06</text>
<text x="1528" y="420" transform="rotate(-10 1528 420)">1.1E+06</text>
<text x="1479" y="489">7.1E+05</text>
<text x="1748" y="391">7.1E+05</text>
<text x="1812" y="543">3.6E+05</text>
<text x="2113" y="445">0.0E+00</text>
</g>
<g filter="url(#soft)"><g clip-path="url(#cd)">
<rect x="1310.5" y="771.5" width="1013" height="419.8" fill="#e8f0f6"/>
<path d="M1320 900C1336.7 880 1403.3 857.5 1450 840C1496.7 822.5 1548.3 805 1600 795C1651.7 785 1732.5 762.5 1760 780C1787.5 797.5 1765 861.7 1765 900C1765 938.3 1770.8 980 1760 1010C1749.2 1040 1726.7 1060 1700 1080C1673.3 1100 1636.7 1118.3 1600 1130C1563.3 1141.7 1513.3 1163.3 1480 1150C1446.7 1136.7 1421.7 1081.7 1400 1050C1378.3 1018.3 1363.3 985 1350 960C1336.7 935 1303.3 920 1320 900Z" fill="#faf1ec" filter="url(#b14)"/>
<path d="M1180.6 992.1A990 990 0 0 1 2453.4 992.1L2418 1034.2A935 935 0 0 0 1216 1034.2Z" fill="#fcf9f8" opacity="0.9" filter="url(#b10)"/>
<path d="M1325 900C1330 887.5 1400.8 858.3 1420 855C1439.2 851.7 1445 867.5 1440 880C1435 892.5 1409.2 926.7 1390 930C1370.8 933.3 1320 912.5 1325 900Z" fill="#fcfaf9" filter="url(#b10)"/>
<path d="M1767 791C1771.5 787.2 1777.3 790.2 1788 789C1798.7 787.8 1816.8 784.7 1831 784C1845.2 783.3 1858.8 783.8 1873 785C1887.2 786.2 1901.8 788.8 1916 791C1930.2 793.2 1944 796.5 1958 798C1972 799.5 1988 799.7 2000 800C2012 800.3 2030 798 2030 800C2030 802 2010.2 807.2 2000 812C1989.8 816.8 1977.7 823.3 1969 829C1960.3 834.7 1955.8 841.3 1948 846C1940.2 850.7 1927.7 852 1922 857C1916.3 862 1916.8 869.3 1914 876C1911.2 882.7 1907.8 890 1905 897C1902.2 904 1899.2 909.2 1897 918C1894.8 926.8 1893.5 940 1892 950C1890.5 960 1890.7 970.5 1888 978C1885.3 985.5 1880.2 988.7 1876 995C1871.8 1001.3 1867 1010 1863 1016C1859 1022 1856.3 1026.7 1852 1031C1847.7 1035.3 1845.7 1037.2 1837 1042C1828.3 1046.8 1813 1056.5 1800 1060C1787 1063.5 1769.8 1061.3 1759 1063C1748.2 1064.7 1741.5 1067.3 1735 1070C1728.5 1072.7 1725.2 1078.2 1720 1079C1714.8 1079.8 1705.3 1078.8 1704 1075C1702.7 1071.2 1708.5 1061.3 1712 1056C1715.5 1050.7 1720 1046.5 1725 1043C1730 1039.5 1737.8 1038.5 1742 1035C1746.2 1031.5 1747.8 1026.8 1750 1022C1752.2 1017.2 1753.2 1009.2 1755 1006C1756.8 1002.8 1760 1010.5 1761 1003C1762 995.5 1760.7 975.2 1761 961C1761.3 946.8 1762 932.2 1763 918C1764 903.8 1766.7 888.3 1767 876C1767.3 863.7 1766 854.7 1765 844C1764 833.3 1760.7 820.8 1761 812C1761.3 803.2 1762.5 794.8 1767 791Z" fill="#e7f0f6" filter="url(#b9)"/>
<path d="M1800 800C1820 775 1885 783.3 1900 800C1915 816.7 1893.3 870 1890 900C1886.7 930 1888.3 958.3 1880 980C1871.7 1001.7 1855 1020 1840 1030C1825 1040 1800 1053.3 1790 1040C1780 1026.7 1778.3 990 1780 950C1781.7 910 1780 825 1800 800Z" fill="#e2edf5" filter="url(#b14)"/>
<path d="M2030 802C2005 799 2010.2 807.5 2000 812C1989.8 816.5 1977.7 823.3 1969 829C1960.3 834.7 1955.8 841.3 1948 846C1940.2 850.7 1927.7 852 1922 857C1916.3 862 1916.8 869.3 1914 876C1911.2 882.7 1907.8 890 1905 897C1902.2 904 1899.2 909.2 1897 918C1894.8 926.8 1893.5 940 1892 950C1890.5 960 1890.7 970.5 1888 978C1885.3 985.5 1880.2 988.7 1876 995C1871.8 1001.3 1867 1010 1863 1016C1859 1022 1856.3 1026.7 1852 1031C1847.7 1035.3 1845.7 1036.8 1837 1042C1828.3 1047.2 1816.2 1056.5 1800 1062C1783.8 1067.5 1758.3 1069 1740 1075C1721.7 1081 1706.7 1090.5 1690 1098C1673.3 1105.5 1655 1113.8 1640 1120C1625 1126.2 1590 1121.7 1600 1135C1610 1148.3 1600 1189.2 1700 1200C1800 1210.8 2096.7 1250 2200 1200C2303.3 1150 2328.3 961.7 2320 900C2311.7 838.3 2198.3 846.3 2150 830C2101.7 813.7 2055 805 2030 802Z" fill="#cfe3f0" filter="url(#b8)"/>
<path d="M2010 815C1982.5 817.5 1990.8 834.2 1985 845C1979.2 855.8 1980.8 868.3 1975 880C1969.2 891.7 1955.8 901.7 1950 915C1944.2 928.3 1943.3 945.8 1940 960C1936.7 974.2 1934.2 985.8 1930 1000C1925.8 1014.2 1921.7 1033.7 1915 1045C1908.3 1056.3 1909.2 1061.3 1890 1068C1870.8 1074.7 1825 1081.7 1800 1085C1775 1088.3 1760 1084.2 1740 1088C1720 1091.8 1696.7 1101.8 1680 1108C1663.3 1114.2 1636.7 1109.7 1640 1125C1643.3 1140.3 1606.7 1187.5 1700 1200C1793.3 1212.5 2096.7 1250 2200 1200C2303.3 1150 2328.3 961.7 2320 900C2311.7 838.3 2201.7 844.2 2150 830C2098.3 815.8 2037.5 812.5 2010 815Z" fill="#9cc8e3" filter="url(#b8)"/>
<path d="M2020 810C1995 810.8 2005 823.3 2000 835C1995 846.7 1994.2 866.7 1990 880C1985.8 893.3 1979.2 901.7 1975 915C1970.8 928.3 1968.3 945.8 1965 960C1961.7 974.2 1958.3 985 1955 1000C1951.7 1015 1948.3 1035.8 1945 1050C1941.7 1064.2 1942.5 1078.3 1935 1085C1927.5 1091.7 1922.5 1088.3 1900 1090C1877.5 1091.7 1826.7 1093.3 1800 1095C1773.3 1096.7 1756.7 1082.5 1740 1100C1723.3 1117.5 1623.3 1183.3 1700 1200C1776.7 1216.7 2096.7 1250 2200 1200C2303.3 1150 2328.3 961.7 2320 900C2311.7 838.3 2200 845 2150 830C2100 815 2045 809.2 2020 810Z" fill="#6aaad8" filter="url(#b7)"/>
<path d="M2031 802C2043.5 798.8 2063.3 810 2080 815C2096.7 820 2119 826.2 2131 832C2143 837.8 2143.8 842 2152 850C2160.2 858 2173.7 868.7 2180 880C2186.3 891.3 2188.3 900.8 2190 918C2191.7 935.2 2190.7 961.5 2190 983C2189.3 1004.5 2188 1032 2186 1047C2184 1062 2183.7 1067.3 2178 1073C2172.3 1078.7 2157 1078.2 2152 1081C2147 1083.8 2148 1085 2148 1090C2148 1095 2152.7 1103.3 2152 1111C2151.3 1118.7 2147.5 1127.8 2144 1136C2140.5 1144.2 2138.3 1149.3 2131 1160C2123.7 1170.7 2131.8 1193.3 2100 1200C2068.2 1206.7 1967.5 1218.3 1940 1200C1912.5 1181.7 1934.5 1119 1935 1090C1935.5 1061 1940.2 1043.7 1943 1026C1945.8 1008.3 1949.5 998.2 1952 984C1954.5 969.8 1955.2 949.2 1958 941C1960.8 932.8 1965.3 940.5 1969 935C1972.7 929.5 1976.2 917.2 1980 908C1983.8 898.8 1989.2 888.8 1992 880C1994.8 871.2 1994.8 862.7 1997 855C1999.2 847.3 1999.3 842.8 2005 834C2010.7 825.2 2018.5 805.2 2031 802Z" fill="#4488c5" filter="url(#b6)"/>
<path d="M2028 804L2076 818L2124 832L2125 899L2085 908L2047 909L2033 885L2028 864Z" fill="#2669b2" filter="url(#b4)"/>
<path d="M2036 812C2049.7 807.2 2104.2 822.5 2118 836C2131.8 849.5 2127 882 2119 893C2111 904 2081.8 901.7 2070 902C2058.2 902.3 2053.7 901.2 2048 895C2042.3 888.8 2038 878.8 2036 865C2034 851.2 2022.3 816.8 2036 812Z" fill="#2467b0" filter="url(#b5)"/>
<path d="M2127 900C2134.5 903.3 2152.8 936.7 2160 960C2167.2 983.3 2171.7 1023.3 2170 1040C2168.3 1056.7 2156.7 1066.7 2150 1060C2143.3 1053.3 2135.8 1020 2130 1000C2124.2 980 2115.5 956.7 2115 940C2114.5 923.3 2119.5 896.7 2127 900Z" fill="#3f84c2" opacity="0.8" filter="url(#b10)"/>
<path d="M1990 960C2005 943.3 2031.7 943.3 2050 950C2068.3 956.7 2091.7 975 2100 1000C2108.3 1025 2116.7 1083.3 2100 1100C2083.3 1116.7 2023.3 1108.3 2000 1100C1976.7 1091.7 1961.7 1073.3 1960 1050C1958.3 1026.7 1975 976.7 1990 960Z" fill="#4a90ca" opacity="0.7" filter="url(#b14)"/>
<path d="M2120 815C2127.2 812.5 2171.7 827.5 2195 835C2218.3 842.5 2237.5 850.8 2260 860C2282.5 869.2 2316.7 880 2330 890C2343.3 900 2350 896.7 2340 920C2330 943.3 2291.7 998.3 2270 1030C2248.3 1061.7 2226.7 1085 2210 1110C2193.3 1135 2181 1175.7 2170 1180C2159 1184.3 2147 1147.5 2144 1136C2141 1124.5 2151.3 1118.7 2152 1111C2152.7 1103.3 2148 1095 2148 1090C2148 1085 2147 1083.8 2152 1081C2157 1078.2 2172.3 1078.7 2178 1073C2183.7 1067.3 2184 1062 2186 1047C2188 1032 2189.3 1004.5 2190 983C2190.7 961.5 2191.7 935.2 2190 918C2188.3 900.8 2186.3 891.3 2180 880C2173.7 868.7 2162 860.8 2152 850C2142 839.2 2112.8 817.5 2120 815Z" fill="#e6ecf8" filter="url(#b4)"/>
<path d="M2150 848C2151.5 846 2176.2 867.3 2185 876C2193.8 884.7 2198.5 891 2203 900C2207.5 909 2210 918 2212 930C2214 942 2215 959.5 2215 972C2215 984.5 2213.7 994 2212 1005C2210.3 1016 2208.3 1026.3 2205 1038C2201.7 1049.7 2197 1063.3 2192 1075C2187 1086.7 2180.3 1095.5 2175 1108C2169.7 1120.5 2164.8 1145.3 2160 1150C2155.2 1154.7 2147 1142.5 2146 1136C2145 1129.5 2153.3 1118.7 2154 1111C2154.7 1103.3 2150 1095 2150 1090C2150 1085 2149 1083.8 2154 1081C2159 1078.2 2174.3 1078.7 2180 1073C2185.7 1067.3 2186.2 1062 2188 1047C2189.8 1032 2191 1004.5 2191 983C2191 961.5 2190.5 933.8 2188 918C2185.5 902.2 2182.3 899.7 2176 888C2169.7 876.3 2148.5 850 2150 848Z" fill="#8fc3e2" filter="url(#b4)"/>
<path d="M2188 930C2190.3 920.3 2201 918 2205 925C2209 932 2211.5 957.8 2212 972C2212.5 986.2 2210 997.8 2208 1010C2206 1022.2 2203.3 1035 2200 1045C2196.7 1055 2190.3 1070.8 2188 1070C2185.7 1069.2 2185.5 1054.5 2186 1040C2186.5 1025.5 2190.7 1001.3 2191 983C2191.3 964.7 2185.7 939.7 2188 930Z" fill="#7ab2dc" opacity="0.9" filter="url(#b4)"/>
<path d="M2215 915C2217.7 911.3 2226.2 919.2 2232 918C2237.8 916.8 2242.8 909 2250 908C2257.2 907 2268 909.2 2275 912C2282 914.8 2292.8 915.3 2292 925C2291.2 934.7 2277.3 956.7 2270 970C2262.7 983.3 2254.3 997.8 2248 1005C2241.7 1012.2 2236.7 1007.3 2232 1013C2227.3 1018.7 2224.3 1029.5 2220 1039C2215.7 1048.5 2207.3 1069.8 2206 1070C2204.7 1070.2 2210.2 1050.8 2212 1040C2213.8 1029.2 2215.8 1016.3 2217 1005C2218.2 993.7 2219.2 982.8 2219 972C2218.8 961.2 2216.7 949.5 2216 940C2215.3 930.5 2212.3 918.7 2215 915Z" fill="#b9daee" filter="url(#b5)"/>
<ellipse cx="2254" cy="950" rx="27" ry="35" fill="#a9d3ea" opacity="0.95" transform="rotate(15 2254 950)" filter="url(#b4)"/>
<ellipse cx="2254" cy="950" rx="19" ry="27" fill="#86b6e0" opacity="0.95" transform="rotate(15 2254 950)" filter="url(#b3)"/>
<ellipse cx="2254" cy="950" rx="11" ry="19" fill="#6e9fd8" opacity="0.95" transform="rotate(15 2254 950)" filter="url(#b3)"/>
<path d="M1387.6 1238.8A668 668 0 0 1 1875.2 1085L1872.8 1112.9A640 640 0 0 0 1405.6 1260.2Z" fill="#6fb0d9" opacity="0.9" filter="url(#b5)"/>
<path d="M1475 1140C1485 1131.7 1519.2 1150.3 1540 1150C1560.8 1149.7 1580 1143.3 1600 1138C1620 1132.7 1643.3 1123.5 1660 1118C1676.7 1112.5 1693.3 1091.3 1700 1105C1706.7 1118.7 1736.7 1184.2 1700 1200C1663.3 1215.8 1517.5 1210 1480 1200C1442.5 1190 1465 1148.3 1475 1140Z" fill="#8ec2e2" filter="url(#b5)"/>
<path d="M1478 1155C1488 1148.3 1519.7 1160.8 1540 1160C1560.3 1159.2 1581.7 1155 1600 1150C1618.3 1145 1641.7 1121.7 1650 1130C1658.3 1138.3 1678.3 1188.3 1650 1200C1621.7 1211.7 1508.7 1207.5 1480 1200C1451.3 1192.5 1468 1161.7 1478 1155Z" fill="#5fa5d2" filter="url(#b5)"/>
<path d="M1628 800C1638 801.7 1647.7 806.3 1654 812C1660.3 817.7 1663.2 828 1666 834C1668.8 840 1670.5 843.8 1671 848C1671.5 852.2 1671.2 857.8 1669 859C1666.8 860.2 1661.2 855.5 1658 855C1654.8 854.5 1650 853.5 1650 856C1650 858.5 1656.3 865.2 1658 870C1659.7 874.8 1657.8 883.3 1660 885C1662.2 886.7 1667.8 882.2 1671 880C1674.2 877.8 1676.2 870.5 1679 872C1681.8 873.5 1685.2 881.3 1688 889C1690.8 896.7 1693.2 906 1696 918C1698.8 930 1703.2 946.8 1705 961C1706.8 975.2 1707.3 988.8 1707 1003C1706.7 1017.2 1704.8 1036.5 1703 1046C1701.2 1055.5 1699.7 1053.8 1696 1060C1692.3 1066.2 1688.7 1076.3 1681 1083C1673.3 1089.7 1660.5 1095.3 1650 1100C1639.5 1104.7 1628.7 1108.5 1618 1111C1607.3 1113.5 1595.7 1114.7 1586 1115C1576.3 1115.3 1571 1112.5 1560 1113C1549 1113.5 1533.3 1118.2 1520 1118C1506.7 1117.8 1487.3 1114.3 1480 1112C1472.7 1109.7 1477.2 1108.3 1476 1104C1474.8 1099.7 1476.7 1089.8 1473 1086C1469.3 1082.2 1460 1085.7 1454 1081C1448 1076.3 1441.8 1067.2 1437 1058C1432.2 1048.8 1428.2 1036.7 1425 1026C1421.8 1015.3 1418.8 1005.5 1418 994C1417.2 982.5 1418.2 964.7 1420 957C1421.8 949.3 1426.8 951.2 1429 948C1431.2 944.8 1433.7 942.2 1433 938C1432.3 933.8 1428.2 929 1425 923C1421.8 917 1415.5 909.2 1414 902C1412.5 894.8 1412.8 886.2 1416 880C1419.2 873.8 1426 870.7 1433 865C1440 859.3 1448.5 852 1458 846C1467.5 840 1476.3 834.7 1490 829C1503.7 823.3 1522.7 816.5 1540 812C1557.3 807.5 1579.3 804 1594 802C1608.7 800 1618 798.3 1628 800Z" fill="#fbe3d6" filter="url(#b5)"/>
<path d="M1500 835C1531.7 827.5 1613.3 814.2 1640 820C1666.7 825.8 1651.7 851.7 1660 870C1668.3 888.3 1684.2 908.3 1690 930C1695.8 951.7 1695 980 1695 1000C1695 1020 1695.8 1035.8 1690 1050C1684.2 1064.2 1675 1076.7 1660 1085C1645 1093.3 1620 1097.5 1600 1100C1580 1102.5 1558.3 1100.8 1540 1100C1521.7 1099.2 1505 1101.7 1490 1095C1475 1088.3 1459.2 1074.2 1450 1060C1440.8 1045.8 1436.7 1026.7 1435 1010C1433.3 993.3 1440.8 978.3 1440 960C1439.2 941.7 1428.3 915.8 1430 900C1431.7 884.2 1438.3 875.8 1450 865C1461.7 854.2 1468.3 842.5 1500 835Z" fill="#fad6c2" filter="url(#b8)"/>
<path d="M1492 840C1502.3 834.8 1508.7 832.2 1520 828C1531.3 823.8 1546.7 818.3 1560 815C1573.3 811.7 1588.7 807.3 1600 808C1611.3 808.7 1621.8 813 1628 819C1634.2 825 1634.8 834.5 1637 844C1639.2 853.5 1638.2 864.3 1641 876C1643.8 887.7 1649 901.7 1654 914C1659 926.3 1667.5 938.5 1671 950C1674.5 961.5 1674.3 968.5 1675 983C1675.7 997.5 1675.7 1023.5 1675 1037C1674.3 1050.5 1675.2 1057.3 1671 1064C1666.8 1070.7 1658.8 1074.2 1650 1077C1641.2 1079.8 1628.7 1081 1618 1081C1607.3 1081 1596.5 1079.7 1586 1077C1575.5 1074.3 1563.8 1068.5 1555 1065C1546.2 1061.5 1540.2 1058.7 1533 1056C1525.8 1053.3 1519.2 1049 1512 1049C1504.8 1049 1496.2 1055.2 1490 1056C1483.8 1056.8 1480.3 1057.2 1475 1054C1469.7 1050.8 1461.2 1045.2 1458 1037C1454.8 1028.8 1455.2 1014.2 1456 1005C1456.8 995.8 1463.3 991.2 1463 982C1462.7 972.8 1457.5 960.7 1454 950C1450.5 939.3 1444.8 928.8 1442 918C1439.2 907.2 1434.3 894.8 1437 885C1439.7 875.2 1448.8 866.5 1458 859C1467.2 851.5 1481.7 845.2 1492 840Z" fill="#f9c5aa" filter="url(#b6)"/>
<path d="M1500 850C1525.8 844.2 1596.7 831.7 1620 840C1643.3 848.3 1633.3 880 1640 900C1646.7 920 1656.7 938.3 1660 960C1663.3 981.7 1665 1013.3 1660 1030C1655 1046.7 1646.7 1056.7 1630 1060C1613.3 1063.3 1581.7 1055 1560 1050C1538.3 1045 1515 1036.7 1500 1030C1485 1023.3 1474.2 1021.7 1470 1010C1465.8 998.3 1476.7 976.7 1475 960C1473.3 943.3 1461.7 924.2 1460 910C1458.3 895.8 1458.3 885 1465 875C1471.7 865 1474.2 855.8 1500 850Z" fill="#f7ba9c" filter="url(#b10)"/>
<path d="M1594 804C1603.5 803 1605.3 803.5 1611 806C1616.7 808.5 1623.7 813.3 1628 819C1632.3 824.7 1637.7 834.7 1637 840C1636.3 845.3 1629 846.3 1624 851C1619 855.7 1611.7 862.3 1607 868C1602.3 873.7 1601.3 880.5 1596 885C1590.7 889.5 1583.8 893 1575 895C1566.2 897 1551.8 896.7 1543 897C1534.2 897.3 1528.3 898.3 1522 897C1515.7 895.7 1509.5 893.5 1505 889C1500.5 884.5 1496.3 876.8 1495 870C1493.7 863.2 1494.2 854.8 1497 848C1499.8 841.2 1502.5 835 1512 829C1521.5 823 1540.3 816.2 1554 812C1567.7 807.8 1584.5 805 1594 804Z" fill="#e67f5e" filter="url(#b5)"/>
<path d="M1540 820C1555.8 815.3 1595.8 809.5 1610 812C1624.2 814.5 1626.7 826.2 1625 835C1623.3 843.8 1609.2 856.7 1600 865C1590.8 873.3 1581.7 881.7 1570 885C1558.3 888.3 1540 888.3 1530 885C1520 881.7 1512.5 872.5 1510 865C1507.5 857.5 1510 847.5 1515 840C1520 832.5 1524.2 824.7 1540 820Z" fill="#e27256" filter="url(#b7)"/>
<path d="M1560 808C1571 802.7 1599.3 803.7 1611 806C1622.7 808.3 1625.8 816.3 1630 822C1634.2 827.7 1638.5 834 1636 840C1633.5 846 1624.3 854.7 1615 858C1605.7 861.3 1591.7 863.3 1580 860C1568.3 856.7 1548.3 846.7 1545 838C1541.7 829.3 1549 813.3 1560 808Z" fill="#d9564d" filter="url(#b8)"/>
<path d="M1575 806C1581.8 804 1602.2 805.3 1611 808C1619.8 810.7 1624.5 817 1628 822C1631.5 827 1634.7 833.7 1632 838C1629.3 842.3 1619.8 848 1612 848C1604.2 848 1592 842.7 1585 838C1578 833.3 1571.7 825.3 1570 820C1568.3 814.7 1568.2 808 1575 806Z" fill="#cf3a45" filter="url(#b6)"/>
<path d="M1585 806C1588.3 803.7 1602.2 805.3 1608 808C1613.8 810.7 1620.5 818 1620 822C1619.5 826 1610.3 832 1605 832C1599.7 832 1591.3 826.3 1588 822C1584.7 817.7 1581.7 808.3 1585 806Z" fill="#c1243c" filter="url(#b4)"/>
<path d="M1333 910C1329.7 892 1349.7 895.7 1360 892C1370.3 888.3 1385 886.7 1395 888C1405 889.3 1414.5 893.8 1420 900C1425.5 906.2 1427.2 917.5 1428 925C1428.8 932.5 1428.8 940.5 1425 945C1421.2 949.5 1410 947 1405 952C1400 957 1395.8 965.3 1395 975C1394.2 984.7 1395.8 997.5 1400 1010C1404.2 1022.5 1411.7 1035.8 1420 1050C1428.3 1064.2 1441.7 1081.7 1450 1095C1458.3 1108.3 1464.2 1117.5 1470 1130C1475.8 1142.5 1490 1175 1485 1170C1480 1165 1457.5 1128.3 1440 1100C1422.5 1071.7 1397.8 1031.7 1380 1000C1362.2 968.3 1336.3 928 1333 910Z" fill="#dfe8f6" filter="url(#b5)"/>
<path d="M1335 912C1333.3 898.7 1348.8 902.8 1355 905C1361.2 907.2 1368.2 915.8 1372 925C1375.8 934.2 1375.8 947.5 1378 960C1380.2 972.5 1378 981.7 1385 1000C1392 1018.3 1417.5 1061.7 1420 1070C1422.5 1078.3 1409.2 1064.2 1400 1050C1390.8 1035.8 1375.8 1008 1365 985C1354.2 962 1336.7 925.3 1335 912Z" fill="#9cc2e6" filter="url(#b4)"/>
<path d="M1340 915C1342 910 1356.2 903.3 1362 905C1367.8 906.7 1374 918.3 1375 925C1376 931.7 1372.2 943.3 1368 945C1363.8 946.7 1354.7 940 1350 935C1345.3 930 1338 920 1340 915Z" fill="#a5d6e8" filter="url(#b4)"/>
<ellipse cx="1381" cy="913" rx="20" ry="9" fill="#98b4e2" opacity="0.95" transform="rotate(22 1381 913)" filter="url(#b3)"/>
<ellipse cx="1383" cy="914" rx="11" ry="5" fill="#8aa5dc" opacity="0.95" transform="rotate(22 1383 914)" filter="url(#b2)"/>
<circle cx="1971" cy="876" r="4.5" fill="none" stroke="#eef4fb" stroke-width="2.5"/>
<path d="M1174.2 984.5A1000 1000 0 0 1 2007.8 768.9L2001.5 801.3A967 967 0 0 0 1195.4 1009.7Z" fill="#ffffff" opacity="0.85" filter="url(#b6)"/>
</g></g>
<g clip-path="url(#cd)" filter="url(#lsoft)">
<g fill="none" filter="url(#b2)" stroke="#e6d8ff" stroke-width="6.5" opacity="0.6" stroke-linejoin="round">
<path d="M1628 800C1636 801.3 1648.9 807.5 1654 812C1659.1 816.5 1663.7 829.2 1666 834C1668.3 838.8 1670.6 844.7 1671 848C1671.4 851.3 1670.7 858.1 1669 859C1667.3 859.9 1660.5 855.4 1658 855C1655.5 854.6 1650 854 1650 856C1650 858 1656.7 866.1 1658 870C1659.3 873.9 1658.3 883.7 1660 885C1661.7 886.3 1668.5 881.7 1671 880C1673.5 878.3 1676.7 870.8 1679 872C1681.3 873.2 1685.7 882.9 1688 889C1690.3 895.1 1693.7 908.4 1696 918C1698.3 927.6 1703.5 949.7 1705 961C1706.5 972.3 1707.3 991.7 1707 1003C1706.7 1014.3 1704.5 1038.4 1703 1046C1701.5 1053.6 1698.9 1055.1 1696 1060C1693.1 1064.9 1687.1 1077.7 1681 1083C1674.9 1088.3 1658.4 1096.3 1650 1100C1641.6 1103.7 1626.5 1109 1618 1111C1609.5 1113 1593.7 1114.7 1586 1115C1578.3 1115.3 1568.8 1112.6 1560 1113C1551.2 1113.4 1530.7 1118.1 1520 1118C1509.3 1117.9 1485.9 1113.9 1480 1112C1474.1 1110.1 1476.9 1107.5 1476 1104C1475.1 1100.5 1475.9 1089.1 1473 1086C1470.1 1082.9 1458.8 1084.7 1454 1081C1449.2 1077.3 1440.9 1065.3 1437 1058C1433.1 1050.7 1427.5 1034.5 1425 1026C1422.5 1017.5 1418.7 1003.2 1418 994C1417.3 984.8 1418.5 963.1 1420 957C1421.5 950.9 1427.3 950.5 1429 948C1430.7 945.5 1433.5 941.3 1433 938C1432.5 934.7 1427.5 927.8 1425 923C1422.5 918.2 1415.2 907.7 1414 902C1412.8 896.3 1413.5 884.9 1416 880C1418.5 875.1 1427.4 869.5 1433 865C1438.6 860.5 1450.4 850.8 1458 846C1465.6 841.2 1479.1 833.5 1490 829C1500.9 824.5 1526.1 815.6 1540 812C1553.9 808.4 1582.3 803.6 1594 802C1605.7 800.4 1620 798.7 1628 800Z"/>
<path d="M1492 840C1500.3 835.9 1510.9 831.3 1520 828C1529.1 824.7 1549.3 817.7 1560 815C1570.7 812.3 1590.9 807.5 1600 808C1609.1 808.5 1623.1 814.2 1628 819C1632.9 823.8 1635.3 836.4 1637 844C1638.7 851.6 1638.7 866.7 1641 876C1643.3 885.3 1650 904.1 1654 914C1658 923.9 1668.2 940.8 1671 950C1673.8 959.2 1674.5 971.4 1675 983C1675.5 994.6 1675.5 1026.2 1675 1037C1674.5 1047.8 1674.3 1058.7 1671 1064C1667.7 1069.3 1657.1 1074.7 1650 1077C1642.9 1079.3 1626.5 1081 1618 1081C1609.5 1081 1594.4 1079.1 1586 1077C1577.6 1074.9 1562.1 1067.8 1555 1065C1547.9 1062.2 1538.7 1058.1 1533 1056C1527.3 1053.9 1517.7 1049 1512 1049C1506.3 1049 1494.9 1055.3 1490 1056C1485.1 1056.7 1479.3 1056.5 1475 1054C1470.7 1051.5 1460.5 1043.5 1458 1037C1455.5 1030.5 1455.3 1012.3 1456 1005C1456.7 997.7 1463.3 989.3 1463 982C1462.7 974.7 1456.8 958.5 1454 950C1451.2 941.5 1444.3 926.7 1442 918C1439.7 909.3 1434.9 892.9 1437 885C1439.1 877.1 1450.7 865 1458 859C1465.3 853 1483.7 844.1 1492 840Z"/>
<path d="M1594 804C1601.6 803.2 1606.5 804 1611 806C1615.5 808 1624.5 814.5 1628 819C1631.5 823.5 1637.5 835.7 1637 840C1636.5 844.3 1628 847.3 1624 851C1620 854.7 1610.7 863.5 1607 868C1603.3 872.5 1600.3 881.4 1596 885C1591.7 888.6 1582.1 893.4 1575 895C1567.9 896.6 1550.1 896.7 1543 897C1535.9 897.3 1527.1 898.1 1522 897C1516.9 895.9 1508.6 892.6 1505 889C1501.4 885.4 1496.1 875.5 1495 870C1493.9 864.5 1494.7 853.5 1497 848C1499.3 842.5 1504.4 833.8 1512 829C1519.6 824.2 1543.1 815.3 1554 812C1564.9 808.7 1586.4 804.8 1594 804Z"/>
<path d="M1420 1035C1418 1030.7 1407.8 1010.1 1405 1003C1402.2 995.9 1400.3 988.4 1399 982C1397.7 975.6 1393.5 959.9 1395 955C1396.5 950.1 1406.7 948.3 1410 945C1413.3 941.7 1420.3 934 1420 930C1419.7 926 1410.7 919.7 1408 915C1405.3 910.3 1400.4 899.7 1400 895C1399.6 890.3 1401.7 884.4 1405 880C1408.3 875.6 1418.3 867.1 1425 862C1431.7 856.9 1446.3 847.3 1455 842C1463.7 836.7 1478.7 826.9 1490 822C1501.3 817.1 1533.3 807.3 1540 805"/>
<path d="M1420 1035C1422 1040.4 1433 1073.2 1437 1081C1441 1088.8 1451.2 1099 1454 1102C1456.8 1105 1460.2 1105.2 1461 1107C1461.8 1108.8 1459.2 1114.3 1461 1117C1462.8 1119.7 1471.3 1127.8 1476 1130C1480.7 1132.2 1493.2 1135.8 1501 1136C1508.8 1136.2 1533.1 1133.4 1543 1132C1552.9 1130.6 1576.1 1126.2 1586 1124C1595.9 1121.8 1618.1 1116 1628 1113C1637.9 1110 1663.4 1100.7 1671 1098C1678.6 1095.3 1689.2 1092.7 1693 1090C1696.8 1087.3 1701.8 1079 1704 1075C1706.2 1071 1709.5 1059.7 1712 1056C1714.5 1052.3 1721.5 1045.5 1725 1043C1728.5 1040.5 1739.1 1037.5 1742 1035C1744.9 1032.5 1748.5 1025.4 1750 1022C1751.5 1018.6 1753.7 1008.2 1755 1006C1756.3 1003.8 1760.3 1008.2 1761 1003C1761.7 997.8 1760.8 970.9 1761 961C1761.2 951.1 1762.3 927.9 1763 918C1763.7 908.1 1766.8 884.6 1767 876C1767.2 867.4 1765.7 851.5 1765 844C1764.3 836.5 1760.8 818.2 1761 812C1761.2 805.8 1765.5 793.5 1767 791C1768.5 788.5 1772 790.2 1774 791C1776 791.8 1782.4 798.2 1784 798C1785.6 797.8 1782.5 790.6 1788 789C1793.5 787.4 1822.2 784.2 1831 784C1839.8 783.8 1858.1 786.9 1863 787C1867.9 787.1 1866.8 784.5 1873 785C1879.2 785.5 1908.5 789.8 1916 791C1923.5 792.2 1932.1 794.2 1937 795C1941.9 795.8 1950.7 797.4 1958 798C1965.3 798.6 1991.5 799.8 2000 800C2008.5 800.2 2027.4 800 2031 800"/>
<path d="M1766 850L1769 900L1771 961L1773 900L1770 850"/>
<path d="M2031 802C2026.9 803.3 2008.3 808.4 2000 812C1991.7 815.6 1975.9 824.5 1969 829C1962.1 833.5 1954.3 842.3 1948 846C1941.7 849.7 1926.5 853 1922 857C1917.5 861 1916.3 870.7 1914 876C1911.7 881.3 1907.3 891.4 1905 897C1902.7 902.6 1898.7 910.9 1897 918C1895.3 925.1 1893.2 942 1892 950C1890.8 958 1889.6 972.3 1888 978C1886.4 983.7 1881.6 991.8 1880 993C1878.4 994.2 1876.9 985.7 1876 987C1875.1 988.3 1874.7 999.1 1873 1003C1871.3 1006.9 1865.8 1012.3 1863 1016C1860.2 1019.7 1855.5 1027.5 1852 1031C1848.5 1034.5 1839 1040.5 1837 1042"/>
<path d="M1759 1066C1755.8 1066.7 1740.2 1069.3 1735 1071C1729.8 1072.7 1724.1 1076.2 1720 1079C1715.9 1081.8 1709.1 1088.5 1704 1092C1698.9 1095.5 1690.5 1101 1682 1105C1673.5 1109 1652.8 1118.4 1640 1122C1627.2 1125.6 1598.9 1129.5 1586 1132C1573.1 1134.5 1554.3 1139.3 1543 1141C1531.7 1142.7 1510.9 1145.7 1501 1145C1491.1 1144.3 1475.3 1139.1 1469 1136C1462.7 1132.9 1456 1123.9 1454 1122"/>
<path d="M2031 804C2027 806.3 2006.7 815.7 2001 821C1995.3 826.3 1990.3 836.7 1988 844C1985.7 851.3 1988 868.3 1984 876C1980 883.7 1962.8 895.7 1958 902C1953.2 908.3 1950.8 915.1 1948 923C1945.2 930.9 1939.3 951.7 1937 961C1934.7 970.3 1932.7 984.5 1931 993C1929.3 1001.5 1926.5 1017.1 1924 1025C1921.5 1032.9 1915.9 1046.5 1912 1052C1908.1 1057.5 1898.6 1063.6 1895 1066C1891.4 1068.4 1886.3 1069.5 1885 1070"/>
<path d="M1803 1085C1798.2 1084.7 1775.1 1082.6 1767 1083C1758.9 1083.4 1749.1 1086.3 1742 1088C1734.9 1089.7 1722 1093.2 1714 1096C1706 1098.8 1691.9 1105.3 1682 1109C1672.1 1112.7 1650 1120.9 1640 1124C1630 1127.1 1619.9 1128.7 1607 1132C1594.1 1135.3 1557.1 1145.9 1543 1149C1528.9 1152.1 1510.6 1154.7 1501 1155C1491.4 1155.3 1475 1151.5 1471 1151"/>
<path d="M2031 806C2027.5 809.7 2009.5 827.5 2005 834C2000.5 840.5 1998.7 848.9 1997 855C1995.3 861.1 1994.3 872.9 1992 880C1989.7 887.1 1983.1 900.7 1980 908C1976.9 915.3 1970.7 927.9 1969 935C1967.3 942.1 1968.5 953.3 1967 961C1965.5 968.7 1959.7 984.5 1958 993C1956.3 1001.5 1955.3 1016.6 1954 1025C1952.7 1033.4 1950.5 1049.3 1948 1056C1945.5 1062.7 1936.7 1070.5 1935 1075C1933.3 1079.5 1933.3 1086 1935 1090C1936.7 1094 1943.5 1101.9 1948 1105C1952.5 1108.1 1963.4 1111.5 1969 1113C1974.6 1114.5 1979.7 1112.5 1990 1116C2000.3 1119.5 2032.9 1134.9 2046 1139C2059.1 1143.1 2078.1 1145.4 2088 1147C2097.9 1148.6 2114.3 1151 2120 1151C2125.7 1151 2127.8 1149 2131 1147C2134.2 1145 2141.2 1140.8 2144 1136C2146.8 1131.2 2151.5 1117.1 2152 1111C2152.5 1104.9 2148 1094 2148 1090C2148 1086 2148 1083.3 2152 1081C2156 1078.7 2173.5 1077.5 2178 1073C2182.5 1068.5 2184.7 1058.9 2186 1047C2187.3 1035.1 2188 995.5 2188 984C2188 972.5 2186.5 969.8 2186 961C2185.5 952.2 2185.7 927.6 2184 918C2182.3 908.4 2177.3 896.9 2173 889C2168.7 881.1 2158.1 866.3 2152 859C2145.9 851.7 2136.6 839.7 2127 834C2117.4 828.3 2092.8 820.3 2080 816C2067.2 811.7 2037.5 803.9 2031 802"/>
<path d="M2131 829C2133.8 831 2144.9 838.3 2152 844C2159.1 849.7 2177.5 864.9 2184 872C2190.5 879.1 2197.5 889.4 2201 897C2204.5 904.6 2208.3 919 2210 929C2211.7 939 2213.7 962.1 2214 972C2214.3 981.9 2213.2 994.6 2212 1003C2210.8 1011.4 2207.9 1024.9 2205 1035C2202.1 1045.1 2194.3 1068.9 2190 1079C2185.7 1089.1 2176.9 1101.1 2173 1111C2169.1 1120.9 2162.6 1147.4 2161 1153"/>
<path d="M2131 829C2141.7 834 2177.3 849.7 2195 859C2212.7 868.3 2222.8 877.8 2237 885C2251.2 892.2 2269.3 898.2 2280 902C2290.7 905.8 2297.5 907 2301 908"/>
<path d="M2135 836C2142.3 840 2178.7 857.5 2190 866C2201.3 874.5 2214.4 893.5 2220 900C2225.6 906.5 2228 914.3 2232 915C2236 915.7 2244.3 905.7 2250 905C2255.7 904.3 2269.7 907.3 2275 910C2280.3 912.7 2288 923 2290 925"/>
<path d="M2248 1003C2246 1004.3 2236.7 1008.2 2233 1013C2229.3 1017.8 2223.7 1031 2220 1039C2216.3 1047 2209.8 1064.6 2205 1073C2200.2 1081.4 2188.3 1095.5 2184 1102C2179.7 1108.5 2174.5 1119.3 2173 1122"/>
<path d="M2280.1 957C2278.6 962.6 2275.5 968.7 2272.1 973C2268.6 977.3 2263.7 981 2259.2 982.8C2254.7 984.6 2249.3 985 2244.9 983.8C2240.6 982.6 2236.1 979.6 2233.1 975.8C2230.1 972 2227.8 966.3 2226.9 960.9C2226 955.4 2226.4 948.6 2227.9 943C2229.4 937.4 2232.5 931.3 2235.9 927C2239.4 922.7 2244.3 919 2248.8 917.2C2253.3 915.4 2258.7 915 2263.1 916.2C2267.4 917.4 2271.9 920.4 2274.9 924.2C2277.9 928 2280.2 933.7 2281.1 939.1C2282 944.6 2281.6 951.4 2280.1 957Z"/>
<path d="M2272.4 954.9C2271.2 959.3 2268.9 963.9 2266.4 967.3C2263.9 970.7 2260.4 973.6 2257.1 975C2253.9 976.5 2250.1 976.9 2247 976.1C2244 975.3 2240.8 973 2238.8 970.1C2236.7 967.2 2235.1 963 2234.6 958.8C2234.1 954.6 2234.5 949.4 2235.6 945.1C2236.8 940.7 2239.1 936.1 2241.6 932.7C2244.1 929.3 2247.6 926.4 2250.9 925C2254.1 923.5 2257.9 923.1 2261 923.9C2264 924.7 2267.2 927 2269.2 929.9C2271.3 932.8 2272.9 937 2273.4 941.2C2273.9 945.4 2273.5 950.6 2272.4 954.9Z"/>
<path d="M2264.6 952.8C2263.8 955.9 2262.3 959.2 2260.7 961.6C2259.1 964.1 2257 966.2 2255.1 967.3C2253.1 968.4 2250.9 968.8 2249.1 968.4C2247.3 967.9 2245.6 966.4 2244.4 964.5C2243.3 962.5 2242.5 959.6 2242.3 956.7C2242.2 953.8 2242.6 950.2 2243.4 947.2C2244.2 944.1 2245.7 940.8 2247.3 938.4C2248.9 935.9 2251 933.8 2252.9 932.7C2254.9 931.6 2257.1 931.2 2258.9 931.6C2260.7 932.1 2262.4 933.6 2263.6 935.5C2264.7 937.5 2265.5 940.4 2265.7 943.3C2265.8 946.2 2265.4 949.8 2264.6 952.8Z"/>
<path d="M1401.4 921.2C1400.8 922.8 1399 924.1 1396.8 924.8C1394.6 925.4 1391.2 925.6 1388 925.2C1384.7 924.7 1380.7 923.6 1377.3 922.3C1373.9 920.9 1370.2 918.9 1367.6 916.9C1364.9 914.9 1362.6 912.5 1361.5 910.5C1360.3 908.5 1360 906.3 1360.6 904.8C1361.2 903.2 1363 901.9 1365.2 901.2C1367.4 900.6 1370.8 900.4 1374 900.8C1377.3 901.3 1381.3 902.4 1384.7 903.7C1388.1 905.1 1391.8 907.1 1394.4 909.1C1397.1 911.1 1399.4 913.5 1400.5 915.5C1401.7 917.5 1402 919.7 1401.4 921.2Z"/>
<path d="M1391.2 917.1C1390.9 917.9 1390 918.6 1388.9 918.9C1387.8 919.2 1386.1 919.3 1384.5 919.1C1382.8 918.9 1380.8 918.3 1379.1 917.6C1377.4 916.9 1375.6 915.9 1374.3 915C1373 914 1371.8 912.8 1371.2 911.7C1370.7 910.7 1370.5 909.7 1370.8 908.9C1371.1 908.1 1372 907.4 1373.1 907.1C1374.2 906.8 1375.9 906.7 1377.5 906.9C1379.2 907.1 1381.2 907.7 1382.9 908.4C1384.6 909.1 1386.4 910.1 1387.7 911C1389 912 1390.2 913.2 1390.8 914.3C1391.3 915.3 1391.5 916.3 1391.2 917.1Z"/>
<path d="M1335 912C1337.3 910.4 1346.7 902.7 1352 900C1357.3 897.3 1368.6 892.9 1375 892C1381.4 891.1 1394 891.3 1400 893C1406 894.7 1416.3 900.7 1420 905C1423.7 909.3 1428 919.7 1428 925C1428 930.3 1423.7 941.7 1420 945C1416.3 948.3 1403.6 947.3 1400 950C1396.4 952.7 1393.4 959.1 1393 965C1392.6 970.9 1395.3 985.9 1397 994C1398.7 1002.1 1402.9 1017.5 1406 1026C1409.1 1034.5 1415.9 1050.7 1420 1058C1424.1 1065.3 1434.7 1077.9 1437 1081"/>
<path d="M1342 920C1344.4 918.9 1356 910.7 1360 912C1364 913.3 1369.6 922.9 1372 930C1374.4 937.1 1376.3 955.7 1378 965C1379.7 974.3 1382.1 990.7 1385 1000C1387.9 1009.3 1395.3 1025.7 1400 1035C1404.7 1044.3 1417.3 1065.3 1420 1070"/>
</g>
<g fill="none" stroke="#8d86b6" stroke-width="1.1" opacity="0.64" stroke-linejoin="round">
<path d="M1628 800C1636 801.3 1648.9 807.5 1654 812C1659.1 816.5 1663.7 829.2 1666 834C1668.3 838.8 1670.6 844.7 1671 848C1671.4 851.3 1670.7 858.1 1669 859C1667.3 859.9 1660.5 855.4 1658 855C1655.5 854.6 1650 854 1650 856C1650 858 1656.7 866.1 1658 870C1659.3 873.9 1658.3 883.7 1660 885C1661.7 886.3 1668.5 881.7 1671 880C1673.5 878.3 1676.7 870.8 1679 872C1681.3 873.2 1685.7 882.9 1688 889C1690.3 895.1 1693.7 908.4 1696 918C1698.3 927.6 1703.5 949.7 1705 961C1706.5 972.3 1707.3 991.7 1707 1003C1706.7 1014.3 1704.5 1038.4 1703 1046C1701.5 1053.6 1698.9 1055.1 1696 1060C1693.1 1064.9 1687.1 1077.7 1681 1083C1674.9 1088.3 1658.4 1096.3 1650 1100C1641.6 1103.7 1626.5 1109 1618 1111C1609.5 1113 1593.7 1114.7 1586 1115C1578.3 1115.3 1568.8 1112.6 1560 1113C1551.2 1113.4 1530.7 1118.1 1520 1118C1509.3 1117.9 1485.9 1113.9 1480 1112C1474.1 1110.1 1476.9 1107.5 1476 1104C1475.1 1100.5 1475.9 1089.1 1473 1086C1470.1 1082.9 1458.8 1084.7 1454 1081C1449.2 1077.3 1440.9 1065.3 1437 1058C1433.1 1050.7 1427.5 1034.5 1425 1026C1422.5 1017.5 1418.7 1003.2 1418 994C1417.3 984.8 1418.5 963.1 1420 957C1421.5 950.9 1427.3 950.5 1429 948C1430.7 945.5 1433.5 941.3 1433 938C1432.5 934.7 1427.5 927.8 1425 923C1422.5 918.2 1415.2 907.7 1414 902C1412.8 896.3 1413.5 884.9 1416 880C1418.5 875.1 1427.4 869.5 1433 865C1438.6 860.5 1450.4 850.8 1458 846C1465.6 841.2 1479.1 833.5 1490 829C1500.9 824.5 1526.1 815.6 1540 812C1553.9 808.4 1582.3 803.6 1594 802C1605.7 800.4 1620 798.7 1628 800Z" stroke="#9c86c6"/>
<path d="M1492 840C1500.3 835.9 1510.9 831.3 1520 828C1529.1 824.7 1549.3 817.7 1560 815C1570.7 812.3 1590.9 807.5 1600 808C1609.1 808.5 1623.1 814.2 1628 819C1632.9 823.8 1635.3 836.4 1637 844C1638.7 851.6 1638.7 866.7 1641 876C1643.3 885.3 1650 904.1 1654 914C1658 923.9 1668.2 940.8 1671 950C1673.8 959.2 1674.5 971.4 1675 983C1675.5 994.6 1675.5 1026.2 1675 1037C1674.5 1047.8 1674.3 1058.7 1671 1064C1667.7 1069.3 1657.1 1074.7 1650 1077C1642.9 1079.3 1626.5 1081 1618 1081C1609.5 1081 1594.4 1079.1 1586 1077C1577.6 1074.9 1562.1 1067.8 1555 1065C1547.9 1062.2 1538.7 1058.1 1533 1056C1527.3 1053.9 1517.7 1049 1512 1049C1506.3 1049 1494.9 1055.3 1490 1056C1485.1 1056.7 1479.3 1056.5 1475 1054C1470.7 1051.5 1460.5 1043.5 1458 1037C1455.5 1030.5 1455.3 1012.3 1456 1005C1456.7 997.7 1463.3 989.3 1463 982C1462.7 974.7 1456.8 958.5 1454 950C1451.2 941.5 1444.3 926.7 1442 918C1439.7 909.3 1434.9 892.9 1437 885C1439.1 877.1 1450.7 865 1458 859C1465.3 853 1483.7 844.1 1492 840Z" stroke="#b088b8"/>
<path d="M1594 804C1601.6 803.2 1606.5 804 1611 806C1615.5 808 1624.5 814.5 1628 819C1631.5 823.5 1637.5 835.7 1637 840C1636.5 844.3 1628 847.3 1624 851C1620 854.7 1610.7 863.5 1607 868C1603.3 872.5 1600.3 881.4 1596 885C1591.7 888.6 1582.1 893.4 1575 895C1567.9 896.6 1550.1 896.7 1543 897C1535.9 897.3 1527.1 898.1 1522 897C1516.9 895.9 1508.6 892.6 1505 889C1501.4 885.4 1496.1 875.5 1495 870C1493.9 864.5 1494.7 853.5 1497 848C1499.3 842.5 1504.4 833.8 1512 829C1519.6 824.2 1543.1 815.3 1554 812C1564.9 808.7 1586.4 804.8 1594 804Z" stroke="#c08aa8"/>
<path d="M1420 1035C1418 1030.7 1407.8 1010.1 1405 1003C1402.2 995.9 1400.3 988.4 1399 982C1397.7 975.6 1393.5 959.9 1395 955C1396.5 950.1 1406.7 948.3 1410 945C1413.3 941.7 1420.3 934 1420 930C1419.7 926 1410.7 919.7 1408 915C1405.3 910.3 1400.4 899.7 1400 895C1399.6 890.3 1401.7 884.4 1405 880C1408.3 875.6 1418.3 867.1 1425 862C1431.7 856.9 1446.3 847.3 1455 842C1463.7 836.7 1478.7 826.9 1490 822C1501.3 817.1 1533.3 807.3 1540 805"/>
<path d="M1420 1035C1422 1040.4 1433 1073.2 1437 1081C1441 1088.8 1451.2 1099 1454 1102C1456.8 1105 1460.2 1105.2 1461 1107C1461.8 1108.8 1459.2 1114.3 1461 1117C1462.8 1119.7 1471.3 1127.8 1476 1130C1480.7 1132.2 1493.2 1135.8 1501 1136C1508.8 1136.2 1533.1 1133.4 1543 1132C1552.9 1130.6 1576.1 1126.2 1586 1124C1595.9 1121.8 1618.1 1116 1628 1113C1637.9 1110 1663.4 1100.7 1671 1098C1678.6 1095.3 1689.2 1092.7 1693 1090C1696.8 1087.3 1701.8 1079 1704 1075C1706.2 1071 1709.5 1059.7 1712 1056C1714.5 1052.3 1721.5 1045.5 1725 1043C1728.5 1040.5 1739.1 1037.5 1742 1035C1744.9 1032.5 1748.5 1025.4 1750 1022C1751.5 1018.6 1753.7 1008.2 1755 1006C1756.3 1003.8 1760.3 1008.2 1761 1003C1761.7 997.8 1760.8 970.9 1761 961C1761.2 951.1 1762.3 927.9 1763 918C1763.7 908.1 1766.8 884.6 1767 876C1767.2 867.4 1765.7 851.5 1765 844C1764.3 836.5 1760.8 818.2 1761 812C1761.2 805.8 1765.5 793.5 1767 791C1768.5 788.5 1772 790.2 1774 791C1776 791.8 1782.4 798.2 1784 798C1785.6 797.8 1782.5 790.6 1788 789C1793.5 787.4 1822.2 784.2 1831 784C1839.8 783.8 1858.1 786.9 1863 787C1867.9 787.1 1866.8 784.5 1873 785C1879.2 785.5 1908.5 789.8 1916 791C1923.5 792.2 1932.1 794.2 1937 795C1941.9 795.8 1950.7 797.4 1958 798C1965.3 798.6 1991.5 799.8 2000 800C2008.5 800.2 2027.4 800 2031 800"/>
<path d="M1766 850L1769 900L1771 961L1773 900L1770 850"/>
<path d="M2031 802C2026.9 803.3 2008.3 808.4 2000 812C1991.7 815.6 1975.9 824.5 1969 829C1962.1 833.5 1954.3 842.3 1948 846C1941.7 849.7 1926.5 853 1922 857C1917.5 861 1916.3 870.7 1914 876C1911.7 881.3 1907.3 891.4 1905 897C1902.7 902.6 1898.7 910.9 1897 918C1895.3 925.1 1893.2 942 1892 950C1890.8 958 1889.6 972.3 1888 978C1886.4 983.7 1881.6 991.8 1880 993C1878.4 994.2 1876.9 985.7 1876 987C1875.1 988.3 1874.7 999.1 1873 1003C1871.3 1006.9 1865.8 1012.3 1863 1016C1860.2 1019.7 1855.5 1027.5 1852 1031C1848.5 1034.5 1839 1040.5 1837 1042"/>
<path d="M1759 1066C1755.8 1066.7 1740.2 1069.3 1735 1071C1729.8 1072.7 1724.1 1076.2 1720 1079C1715.9 1081.8 1709.1 1088.5 1704 1092C1698.9 1095.5 1690.5 1101 1682 1105C1673.5 1109 1652.8 1118.4 1640 1122C1627.2 1125.6 1598.9 1129.5 1586 1132C1573.1 1134.5 1554.3 1139.3 1543 1141C1531.7 1142.7 1510.9 1145.7 1501 1145C1491.1 1144.3 1475.3 1139.1 1469 1136C1462.7 1132.9 1456 1123.9 1454 1122"/>
<path d="M2031 804C2027 806.3 2006.7 815.7 2001 821C1995.3 826.3 1990.3 836.7 1988 844C1985.7 851.3 1988 868.3 1984 876C1980 883.7 1962.8 895.7 1958 902C1953.2 908.3 1950.8 915.1 1948 923C1945.2 930.9 1939.3 951.7 1937 961C1934.7 970.3 1932.7 984.5 1931 993C1929.3 1001.5 1926.5 1017.1 1924 1025C1921.5 1032.9 1915.9 1046.5 1912 1052C1908.1 1057.5 1898.6 1063.6 1895 1066C1891.4 1068.4 1886.3 1069.5 1885 1070"/>
<path d="M1803 1085C1798.2 1084.7 1775.1 1082.6 1767 1083C1758.9 1083.4 1749.1 1086.3 1742 1088C1734.9 1089.7 1722 1093.2 1714 1096C1706 1098.8 1691.9 1105.3 1682 1109C1672.1 1112.7 1650 1120.9 1640 1124C1630 1127.1 1619.9 1128.7 1607 1132C1594.1 1135.3 1557.1 1145.9 1543 1149C1528.9 1152.1 1510.6 1154.7 1501 1155C1491.4 1155.3 1475 1151.5 1471 1151"/>
<path d="M2031 806C2027.5 809.7 2009.5 827.5 2005 834C2000.5 840.5 1998.7 848.9 1997 855C1995.3 861.1 1994.3 872.9 1992 880C1989.7 887.1 1983.1 900.7 1980 908C1976.9 915.3 1970.7 927.9 1969 935C1967.3 942.1 1968.5 953.3 1967 961C1965.5 968.7 1959.7 984.5 1958 993C1956.3 1001.5 1955.3 1016.6 1954 1025C1952.7 1033.4 1950.5 1049.3 1948 1056C1945.5 1062.7 1936.7 1070.5 1935 1075C1933.3 1079.5 1933.3 1086 1935 1090C1936.7 1094 1943.5 1101.9 1948 1105C1952.5 1108.1 1963.4 1111.5 1969 1113C1974.6 1114.5 1979.7 1112.5 1990 1116C2000.3 1119.5 2032.9 1134.9 2046 1139C2059.1 1143.1 2078.1 1145.4 2088 1147C2097.9 1148.6 2114.3 1151 2120 1151C2125.7 1151 2127.8 1149 2131 1147C2134.2 1145 2141.2 1140.8 2144 1136C2146.8 1131.2 2151.5 1117.1 2152 1111C2152.5 1104.9 2148 1094 2148 1090C2148 1086 2148 1083.3 2152 1081C2156 1078.7 2173.5 1077.5 2178 1073C2182.5 1068.5 2184.7 1058.9 2186 1047C2187.3 1035.1 2188 995.5 2188 984C2188 972.5 2186.5 969.8 2186 961C2185.5 952.2 2185.7 927.6 2184 918C2182.3 908.4 2177.3 896.9 2173 889C2168.7 881.1 2158.1 866.3 2152 859C2145.9 851.7 2136.6 839.7 2127 834C2117.4 828.3 2092.8 820.3 2080 816C2067.2 811.7 2037.5 803.9 2031 802"/>
<path d="M2131 829C2133.8 831 2144.9 838.3 2152 844C2159.1 849.7 2177.5 864.9 2184 872C2190.5 879.1 2197.5 889.4 2201 897C2204.5 904.6 2208.3 919 2210 929C2211.7 939 2213.7 962.1 2214 972C2214.3 981.9 2213.2 994.6 2212 1003C2210.8 1011.4 2207.9 1024.9 2205 1035C2202.1 1045.1 2194.3 1068.9 2190 1079C2185.7 1089.1 2176.9 1101.1 2173 1111C2169.1 1120.9 2162.6 1147.4 2161 1153"/>
<path d="M2131 829C2141.7 834 2177.3 849.7 2195 859C2212.7 868.3 2222.8 877.8 2237 885C2251.2 892.2 2269.3 898.2 2280 902C2290.7 905.8 2297.5 907 2301 908"/>
<path d="M2135 836C2142.3 840 2178.7 857.5 2190 866C2201.3 874.5 2214.4 893.5 2220 900C2225.6 906.5 2228 914.3 2232 915C2236 915.7 2244.3 905.7 2250 905C2255.7 904.3 2269.7 907.3 2275 910C2280.3 912.7 2288 923 2290 925"/>
<path d="M2248 1003C2246 1004.3 2236.7 1008.2 2233 1013C2229.3 1017.8 2223.7 1031 2220 1039C2216.3 1047 2209.8 1064.6 2205 1073C2200.2 1081.4 2188.3 1095.5 2184 1102C2179.7 1108.5 2174.5 1119.3 2173 1122"/>
<path d="M2280.1 957C2278.6 962.6 2275.5 968.7 2272.1 973C2268.6 977.3 2263.7 981 2259.2 982.8C2254.7 984.6 2249.3 985 2244.9 983.8C2240.6 982.6 2236.1 979.6 2233.1 975.8C2230.1 972 2227.8 966.3 2226.9 960.9C2226 955.4 2226.4 948.6 2227.9 943C2229.4 937.4 2232.5 931.3 2235.9 927C2239.4 922.7 2244.3 919 2248.8 917.2C2253.3 915.4 2258.7 915 2263.1 916.2C2267.4 917.4 2271.9 920.4 2274.9 924.2C2277.9 928 2280.2 933.7 2281.1 939.1C2282 944.6 2281.6 951.4 2280.1 957Z"/>
<path d="M2272.4 954.9C2271.2 959.3 2268.9 963.9 2266.4 967.3C2263.9 970.7 2260.4 973.6 2257.1 975C2253.9 976.5 2250.1 976.9 2247 976.1C2244 975.3 2240.8 973 2238.8 970.1C2236.7 967.2 2235.1 963 2234.6 958.8C2234.1 954.6 2234.5 949.4 2235.6 945.1C2236.8 940.7 2239.1 936.1 2241.6 932.7C2244.1 929.3 2247.6 926.4 2250.9 925C2254.1 923.5 2257.9 923.1 2261 923.9C2264 924.7 2267.2 927 2269.2 929.9C2271.3 932.8 2272.9 937 2273.4 941.2C2273.9 945.4 2273.5 950.6 2272.4 954.9Z"/>
<path d="M2264.6 952.8C2263.8 955.9 2262.3 959.2 2260.7 961.6C2259.1 964.1 2257 966.2 2255.1 967.3C2253.1 968.4 2250.9 968.8 2249.1 968.4C2247.3 967.9 2245.6 966.4 2244.4 964.5C2243.3 962.5 2242.5 959.6 2242.3 956.7C2242.2 953.8 2242.6 950.2 2243.4 947.2C2244.2 944.1 2245.7 940.8 2247.3 938.4C2248.9 935.9 2251 933.8 2252.9 932.7C2254.9 931.6 2257.1 931.2 2258.9 931.6C2260.7 932.1 2262.4 933.6 2263.6 935.5C2264.7 937.5 2265.5 940.4 2265.7 943.3C2265.8 946.2 2265.4 949.8 2264.6 952.8Z"/>
<path d="M1401.4 921.2C1400.8 922.8 1399 924.1 1396.8 924.8C1394.6 925.4 1391.2 925.6 1388 925.2C1384.7 924.7 1380.7 923.6 1377.3 922.3C1373.9 920.9 1370.2 918.9 1367.6 916.9C1364.9 914.9 1362.6 912.5 1361.5 910.5C1360.3 908.5 1360 906.3 1360.6 904.8C1361.2 903.2 1363 901.9 1365.2 901.2C1367.4 900.6 1370.8 900.4 1374 900.8C1377.3 901.3 1381.3 902.4 1384.7 903.7C1388.1 905.1 1391.8 907.1 1394.4 909.1C1397.1 911.1 1399.4 913.5 1400.5 915.5C1401.7 917.5 1402 919.7 1401.4 921.2Z"/>
<path d="M1391.2 917.1C1390.9 917.9 1390 918.6 1388.9 918.9C1387.8 919.2 1386.1 919.3 1384.5 919.1C1382.8 918.9 1380.8 918.3 1379.1 917.6C1377.4 916.9 1375.6 915.9 1374.3 915C1373 914 1371.8 912.8 1371.2 911.7C1370.7 910.7 1370.5 909.7 1370.8 908.9C1371.1 908.1 1372 907.4 1373.1 907.1C1374.2 906.8 1375.9 906.7 1377.5 906.9C1379.2 907.1 1381.2 907.7 1382.9 908.4C1384.6 909.1 1386.4 910.1 1387.7 911C1389 912 1390.2 913.2 1390.8 914.3C1391.3 915.3 1391.5 916.3 1391.2 917.1Z"/>
<path d="M1335 912C1337.3 910.4 1346.7 902.7 1352 900C1357.3 897.3 1368.6 892.9 1375 892C1381.4 891.1 1394 891.3 1400 893C1406 894.7 1416.3 900.7 1420 905C1423.7 909.3 1428 919.7 1428 925C1428 930.3 1423.7 941.7 1420 945C1416.3 948.3 1403.6 947.3 1400 950C1396.4 952.7 1393.4 959.1 1393 965C1392.6 970.9 1395.3 985.9 1397 994C1398.7 1002.1 1402.9 1017.5 1406 1026C1409.1 1034.5 1415.9 1050.7 1420 1058C1424.1 1065.3 1434.7 1077.9 1437 1081"/>
<path d="M1342 920C1344.4 918.9 1356 910.7 1360 912C1364 913.3 1369.6 922.9 1372 930C1374.4 937.1 1376.3 955.7 1378 965C1379.7 974.3 1382.1 990.7 1385 1000C1387.9 1009.3 1395.3 1025.7 1400 1035C1404.7 1044.3 1417.3 1065.3 1420 1070"/>
</g>
</g>
<g class="cl" filter="url(#tsoft)" font-size="22">
<text x="1601" y="846" transform="rotate(9 1601 846)">2.0E+06</text>
<text x="1568" y="918">1.7E+06</text>
<text x="1575" y="1067">1.4E+06</text>
<text x="1515" y="1121">1.1E+06</text>
<text x="1759" y="884">8.6E+05</text>
<text x="1799" y="1058">5.7E+05</text>
<text x="1844" y="1086">2.9E+05</text>
<text x="1960" y="995">0.0E+00</text>
</g>
</svg></body></html>
